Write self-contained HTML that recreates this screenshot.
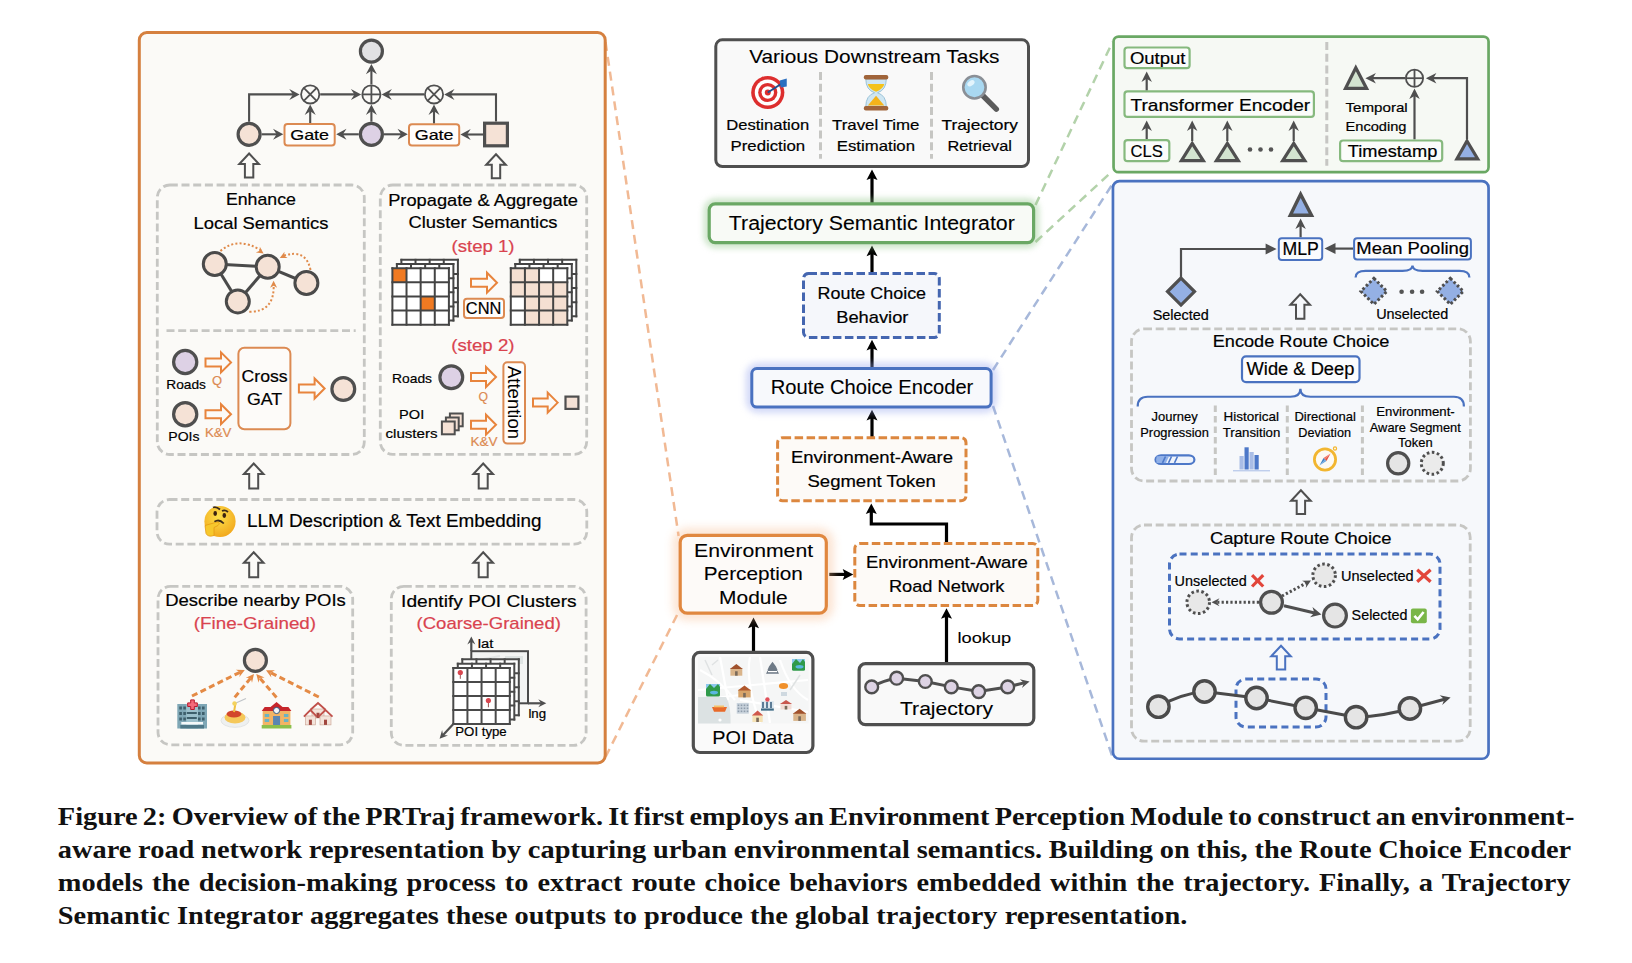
<!DOCTYPE html>
<html><head><meta charset="utf-8"><style>
html,body{margin:0;padding:0;background:#fff;}
#wrap{position:relative;width:1632px;height:963px;overflow:hidden;background:#fff;}
svg{position:absolute;left:0;top:0;}

</style></head><body><div id="wrap">
<svg width="1632" height="963" viewBox="0 0 1632 963">
<line x1="605.5" y1="42" x2="678.6" y2="536" stroke="#f1b994" stroke-width="2.5" stroke-linecap="butt" stroke-dasharray="9 6"/>
<line x1="605.5" y1="757" x2="678.6" y2="612" stroke="#f1b994" stroke-width="2.5" stroke-linecap="butt" stroke-dasharray="9 6"/>
<line x1="1035.5" y1="205" x2="1112.5" y2="42" stroke="#b3d2aa" stroke-width="2.5" stroke-linecap="butt" stroke-dasharray="9 6"/>
<line x1="1035.5" y1="242" x2="1112.5" y2="171" stroke="#b3d2aa" stroke-width="2.5" stroke-linecap="butt" stroke-dasharray="9 6"/>
<line x1="993" y1="370" x2="1112.5" y2="184" stroke="#a7b8da" stroke-width="2.5" stroke-linecap="butt" stroke-dasharray="9 6"/>
<line x1="993" y1="406" x2="1112.5" y2="757" stroke="#a7b8da" stroke-width="2.5" stroke-linecap="butt" stroke-dasharray="9 6"/>
<rect x="139.3" y="32.5" width="465.9" height="730.4" rx="7.5" fill="#fbfaf7" stroke="#d5803f" stroke-width="3" />
<circle cx="371.4" cy="51.2" r="11" fill="#e2e2e4" stroke="#4f4f4f" stroke-width="3.2" />
<circle cx="371.4" cy="94.4" r="9.1" fill="#fbfaf7" stroke="#4f4f4f" stroke-width="1.8" />
<line x1="362.3" y1="94.4" x2="380.5" y2="94.4" stroke="#4f4f4f" stroke-width="1.8" stroke-linecap="butt"/>
<line x1="371.4" y1="85.3" x2="371.4" y2="103.5" stroke="#4f4f4f" stroke-width="1.8" stroke-linecap="butt"/>
<circle cx="310.2" cy="94.4" r="9.1" fill="#fbfaf7" stroke="#4f4f4f" stroke-width="1.8" />
<line x1="303.77" y1="87.97" x2="316.63" y2="100.83" stroke="#4f4f4f" stroke-width="1.8" stroke-linecap="butt"/>
<line x1="303.77" y1="100.83" x2="316.63" y2="87.97" stroke="#4f4f4f" stroke-width="1.8" stroke-linecap="butt"/>
<circle cx="434" cy="94.4" r="9.1" fill="#fbfaf7" stroke="#4f4f4f" stroke-width="1.8" />
<line x1="427.57" y1="87.97" x2="440.43" y2="100.83" stroke="#4f4f4f" stroke-width="1.8" stroke-linecap="butt"/>
<line x1="427.57" y1="100.83" x2="440.43" y2="87.97" stroke="#4f4f4f" stroke-width="1.8" stroke-linecap="butt"/>
<circle cx="249.1" cy="134.3" r="11" fill="#f5e2d6" stroke="#4f4f4f" stroke-width="3.2" />
<circle cx="371.4" cy="134.3" r="11" fill="#ddd1e5" stroke="#4f4f4f" stroke-width="3.2" />
<rect x="484.6" y="123.2" width="22.8" height="22.6" rx="0" fill="#f5e2d6" stroke="#4f4f4f" stroke-width="3.2" />
<rect x="284.5" y="124" width="50.2" height="21.6" rx="3" fill="#fffdfb" stroke="#dc8a52" stroke-width="2" />
<rect x="409" y="124.3" width="50.2" height="21.3" rx="3" fill="#fffdfb" stroke="#dc8a52" stroke-width="2" />
<text x="290.2" y="139.5" font-family="Liberation Sans" font-size="15" font-weight="normal" fill="#000" stroke="#000" stroke-width="0.2" text-anchor="start" textLength="38.9" lengthAdjust="spacingAndGlyphs" >Gate</text>
<text x="414.7" y="139.5" font-family="Liberation Sans" font-size="15" font-weight="normal" fill="#000" stroke="#000" stroke-width="0.2" text-anchor="start" textLength="38.9" lengthAdjust="spacingAndGlyphs" >Gate</text>
<path d="M249.1,121.7 L249.1,94.4 L294.24,94.4" fill="none" stroke="#4f4f4f" stroke-width="2.1" stroke-linejoin="miter" />
<path d="M299.6,94.4 L289.3,99.9 L292.91,94.4 L289.3,88.9 Z" fill="#4f4f4f"/>
<path d="M261.7,134.3 L277.94,134.3" fill="none" stroke="#4f4f4f" stroke-width="2.1" stroke-linejoin="miter" />
<path d="M283.3,134.3 L273,139.8 L276.61,134.3 L273,128.8 Z" fill="#4f4f4f"/>
<path d="M310.2,123 L310.2,109.96" fill="none" stroke="#4f4f4f" stroke-width="2.1" stroke-linejoin="miter" />
<path d="M310.2,104.6 L315.7,114.9 L310.2,111.29 L304.7,114.9 Z" fill="#4f4f4f"/>
<path d="M320.2,94.4 L355.84,94.4" fill="none" stroke="#4f4f4f" stroke-width="2.1" stroke-linejoin="miter" />
<path d="M361.2,94.4 L350.9,99.9 L354.5,94.4 L350.9,88.9 Z" fill="#4f4f4f"/>
<path d="M358.8,134.3 L341.56,134.3" fill="none" stroke="#4f4f4f" stroke-width="2.1" stroke-linejoin="miter" />
<path d="M336.2,134.3 L346.5,128.8 L342.89,134.3 L346.5,139.8 Z" fill="#4f4f4f"/>
<path d="M371.4,121.7 L371.4,109.96" fill="none" stroke="#4f4f4f" stroke-width="2.1" stroke-linejoin="miter" />
<path d="M371.4,104.6 L376.9,114.9 L371.4,111.29 L365.9,114.9 Z" fill="#4f4f4f"/>
<path d="M371.4,84.4 L371.4,69.36" fill="none" stroke="#4f4f4f" stroke-width="2.1" stroke-linejoin="miter" />
<path d="M371.4,64 L376.9,74.3 L371.4,70.69 L365.9,74.3 Z" fill="#4f4f4f"/>
<path d="M384,134.3 L402.44,134.3" fill="none" stroke="#4f4f4f" stroke-width="2.1" stroke-linejoin="miter" />
<path d="M407.8,134.3 L397.5,139.8 L401.11,134.3 L397.5,128.8 Z" fill="#4f4f4f"/>
<path d="M483,134.5 L465.76,134.5" fill="none" stroke="#4f4f4f" stroke-width="2.1" stroke-linejoin="miter" />
<path d="M460.4,134.5 L470.7,129 L467.09,134.5 L470.7,140 Z" fill="#4f4f4f"/>
<path d="M434,123.3 L434,109.96" fill="none" stroke="#4f4f4f" stroke-width="2.1" stroke-linejoin="miter" />
<path d="M434,104.6 L439.5,114.9 L434,111.29 L428.5,114.9 Z" fill="#4f4f4f"/>
<path d="M496,121.6 L496,94.4 L449.56,94.4" fill="none" stroke="#4f4f4f" stroke-width="2.1" stroke-linejoin="miter" />
<path d="M444.2,94.4 L454.5,88.9 L450.89,94.4 L454.5,99.9 Z" fill="#4f4f4f"/>
<path d="M424,94.4 L386.96,94.4" fill="none" stroke="#4f4f4f" stroke-width="2.1" stroke-linejoin="miter" />
<path d="M381.6,94.4 L391.9,88.9 L388.3,94.4 L391.9,99.9 Z" fill="#4f4f4f"/>
<path d="M249.1,153.5 L258.9,164 L253.3,164 L253.3,177.5 L244.9,177.5 L244.9,164 L239.3,164 Z" fill="#fbfaf7" stroke="#4f4f4f" stroke-width="2" stroke-linejoin="miter" />
<path d="M496,154.3 L505.8,164.8 L500.2,164.8 L500.2,178.3 L491.8,178.3 L491.8,164.8 L486.2,164.8 Z" fill="#fbfaf7" stroke="#4f4f4f" stroke-width="2" stroke-linejoin="miter" />
<rect x="157.3" y="185" width="207" height="269.5" rx="12.5" fill="none" stroke="#c6c6c3" stroke-width="2.8" stroke-dasharray="8 3.7" />
<text x="225.9" y="204.6" font-family="Liberation Sans" font-size="17" font-weight="normal" fill="#000" stroke="#000" stroke-width="0.2" text-anchor="start" textLength="70.1" lengthAdjust="spacingAndGlyphs" >Enhance</text>
<text x="193.5" y="228.5" font-family="Liberation Sans" font-size="17" font-weight="normal" fill="#000" stroke="#000" stroke-width="0.2" text-anchor="start" textLength="135" lengthAdjust="spacingAndGlyphs" >Local Semantics</text>
<line x1="214.8" y1="264" x2="267.7" y2="266.8" stroke="#4a4a4a" stroke-width="3" stroke-linecap="butt"/>
<line x1="214.8" y1="264" x2="237.8" y2="301.4" stroke="#4a4a4a" stroke-width="3" stroke-linecap="butt"/>
<line x1="237.8" y1="301.4" x2="267.7" y2="266.8" stroke="#4a4a4a" stroke-width="3" stroke-linecap="butt"/>
<line x1="267.7" y1="266.8" x2="306.4" y2="283" stroke="#4a4a4a" stroke-width="3" stroke-linecap="butt"/>
<circle cx="214.8" cy="264" r="11.5" fill="#f5e2d6" stroke="#4a4a4a" stroke-width="3" />
<circle cx="267.7" cy="266.8" r="11.5" fill="#f5e2d6" stroke="#4a4a4a" stroke-width="3" />
<circle cx="306.4" cy="283" r="11.5" fill="#f5e2d6" stroke="#4a4a4a" stroke-width="3" />
<circle cx="237.8" cy="301.4" r="11.5" fill="#f5e2d6" stroke="#4a4a4a" stroke-width="3" />
<path d="M220.4,251 Q238,236 261,250.5" fill="none" stroke="#e08a4a" stroke-width="2" stroke-dasharray="2 2.2" stroke-linejoin="miter" />
<path d="M263.6,253.6 L255.86,252.45 L259.59,250.79 L259.87,246.72 Z" fill="#e08a4a"/>
<path d="M310.5,270 Q306,248 283,256" fill="none" stroke="#e08a4a" stroke-width="2" stroke-dasharray="2 2.2" stroke-linejoin="miter" />
<path d="M279.8,258 L284.5,251.74 L284.18,255.81 L287.63,258 Z" fill="#e08a4a"/>
<path d="M249.3,311.7 Q275,312 273.6,284" fill="none" stroke="#e08a4a" stroke-width="2" stroke-dasharray="2 2.2" stroke-linejoin="miter" />
<path d="M273.6,280.8 L277.1,287.8 L273.6,285.7 L270.1,287.8 Z" fill="#e08a4a"/>
<line x1="166.5" y1="330.6" x2="355.7" y2="330.6" stroke="#c6c6c3" stroke-width="2.8" stroke-linecap="butt" stroke-dasharray="8 3.7"/>
<circle cx="185.2" cy="362" r="11.6" fill="#ddd1e5" stroke="#4f4f4f" stroke-width="3.2" />
<circle cx="185.2" cy="414.2" r="11.6" fill="#f5e2d6" stroke="#4f4f4f" stroke-width="3.2" />
<text x="166.3" y="388.5" font-family="Liberation Sans" font-size="13.5" font-weight="normal" fill="#000" stroke="#000" stroke-width="0.2" text-anchor="start" textLength="39.6" lengthAdjust="spacingAndGlyphs" >Roads</text>
<text x="168.3" y="440.7" font-family="Liberation Sans" font-size="13.5" font-weight="normal" fill="#000" stroke="#000" stroke-width="0.2" text-anchor="start" textLength="31.2" lengthAdjust="spacingAndGlyphs" >POIs</text>
<path d="M231,362.4 L221,352.4 L221,358.4 L205.5,358.4 L205.5,366.4 L221,366.4 L221,372.4 Z" fill="#fbfaf7" stroke="#e8843c" stroke-width="2" stroke-linejoin="miter" />
<path d="M231,414.2 L221,404.2 L221,410.2 L205.5,410.2 L205.5,418.2 L221,418.2 L221,424.2 Z" fill="#fbfaf7" stroke="#e8843c" stroke-width="2" stroke-linejoin="miter" />
<text x="211.9" y="385" font-family="Liberation Sans" font-size="13" font-weight="normal" fill="#dc8a52" stroke="#dc8a52" stroke-width="0.2" text-anchor="start" textLength="10.1" lengthAdjust="spacingAndGlyphs" >Q</text>
<text x="204.9" y="437" font-family="Liberation Sans" font-size="13" font-weight="normal" fill="#dc8a52" stroke="#dc8a52" stroke-width="0.2" text-anchor="start" textLength="26.6" lengthAdjust="spacingAndGlyphs" >K&amp;V</text>
<rect x="238.4" y="347.8" width="52" height="81.5" rx="6" fill="#fdfbf9" stroke="#dc8a52" stroke-width="2" />
<text x="241.5" y="382.3" font-family="Liberation Sans" font-size="17" font-weight="normal" fill="#000" stroke="#000" stroke-width="0.2" text-anchor="start" textLength="46.2" lengthAdjust="spacingAndGlyphs" >Cross</text>
<text x="247" y="405.4" font-family="Liberation Sans" font-size="17" font-weight="normal" fill="#000" stroke="#000" stroke-width="0.2" text-anchor="start" textLength="35.2" lengthAdjust="spacingAndGlyphs" >GAT</text>
<path d="M324.6,388.5 L314.6,378.5 L314.6,384.5 L298.9,384.5 L298.9,392.5 L314.6,392.5 L314.6,398.5 Z" fill="#fbfaf7" stroke="#e8843c" stroke-width="2" stroke-linejoin="miter" />
<circle cx="343.3" cy="389" r="11.4" fill="#f5e2d6" stroke="#4f4f4f" stroke-width="3.2" />
<rect x="380.3" y="185" width="206.4" height="269.3" rx="12.5" fill="none" stroke="#c6c6c3" stroke-width="2.8" stroke-dasharray="8 3.7" />
<text x="388.2" y="205.7" font-family="Liberation Sans" font-size="17" font-weight="normal" fill="#000" stroke="#000" stroke-width="0.2" text-anchor="start" textLength="189.8" lengthAdjust="spacingAndGlyphs" >Propagate &amp; Aggregate</text>
<text x="408.5" y="228" font-family="Liberation Sans" font-size="17" font-weight="normal" fill="#000" stroke="#000" stroke-width="0.2" text-anchor="start" textLength="149" lengthAdjust="spacingAndGlyphs" >Cluster Semantics</text>
<text x="451.5" y="252" font-family="Liberation Sans" font-size="17" font-weight="normal" fill="#d9434f" stroke="#d9434f" stroke-width="0.2" text-anchor="start" textLength="63" lengthAdjust="spacingAndGlyphs" >(step 1)</text>
<rect x="401.4" y="259.83" width="56.5" height="56.5" rx="0" fill="#fff" stroke="none" stroke-width="0" />
<line x1="401.4" y1="259.83" x2="401.4" y2="316.33" stroke="#444" stroke-width="2" stroke-linecap="square"/>
<line x1="401.4" y1="259.83" x2="457.9" y2="259.83" stroke="#444" stroke-width="2" stroke-linecap="square"/>
<line x1="415.52" y1="259.83" x2="415.52" y2="316.33" stroke="#444" stroke-width="2" stroke-linecap="square"/>
<line x1="401.4" y1="273.95" x2="457.9" y2="273.95" stroke="#444" stroke-width="2" stroke-linecap="square"/>
<line x1="429.65" y1="259.83" x2="429.65" y2="316.33" stroke="#444" stroke-width="2" stroke-linecap="square"/>
<line x1="401.4" y1="288.08" x2="457.9" y2="288.08" stroke="#444" stroke-width="2" stroke-linecap="square"/>
<line x1="443.77" y1="259.83" x2="443.77" y2="316.33" stroke="#444" stroke-width="2" stroke-linecap="square"/>
<line x1="401.4" y1="302.2" x2="457.9" y2="302.2" stroke="#444" stroke-width="2" stroke-linecap="square"/>
<line x1="457.9" y1="259.83" x2="457.9" y2="316.33" stroke="#444" stroke-width="2" stroke-linecap="square"/>
<line x1="401.4" y1="316.33" x2="457.9" y2="316.33" stroke="#444" stroke-width="2" stroke-linecap="square"/>
<rect x="396.9" y="264.01" width="56.5" height="56.5" rx="0" fill="#fff" stroke="none" stroke-width="0" />
<line x1="396.9" y1="264.01" x2="396.9" y2="320.51" stroke="#444" stroke-width="2" stroke-linecap="square"/>
<line x1="396.9" y1="264.01" x2="453.4" y2="264.01" stroke="#444" stroke-width="2" stroke-linecap="square"/>
<line x1="411.02" y1="264.01" x2="411.02" y2="320.51" stroke="#444" stroke-width="2" stroke-linecap="square"/>
<line x1="396.9" y1="278.14" x2="453.4" y2="278.14" stroke="#444" stroke-width="2" stroke-linecap="square"/>
<line x1="425.15" y1="264.01" x2="425.15" y2="320.51" stroke="#444" stroke-width="2" stroke-linecap="square"/>
<line x1="396.9" y1="292.26" x2="453.4" y2="292.26" stroke="#444" stroke-width="2" stroke-linecap="square"/>
<line x1="439.27" y1="264.01" x2="439.27" y2="320.51" stroke="#444" stroke-width="2" stroke-linecap="square"/>
<line x1="396.9" y1="306.39" x2="453.4" y2="306.39" stroke="#444" stroke-width="2" stroke-linecap="square"/>
<line x1="453.4" y1="264.01" x2="453.4" y2="320.51" stroke="#444" stroke-width="2" stroke-linecap="square"/>
<line x1="396.9" y1="320.51" x2="453.4" y2="320.51" stroke="#444" stroke-width="2" stroke-linecap="square"/>
<rect x="392.4" y="268.2" width="56.5" height="56.5" rx="0" fill="#fff" stroke="none" stroke-width="0" />
<rect x="392.4" y="268.2" width="14.12" height="14.12" rx="0" fill="#f07a22" stroke="none" stroke-width="0" />
<rect x="420.65" y="296.45" width="14.12" height="14.12" rx="0" fill="#f07a22" stroke="none" stroke-width="0" />
<line x1="392.4" y1="268.2" x2="392.4" y2="324.7" stroke="#444" stroke-width="2" stroke-linecap="square"/>
<line x1="392.4" y1="268.2" x2="448.9" y2="268.2" stroke="#444" stroke-width="2" stroke-linecap="square"/>
<line x1="406.52" y1="268.2" x2="406.52" y2="324.7" stroke="#444" stroke-width="2" stroke-linecap="square"/>
<line x1="392.4" y1="282.32" x2="448.9" y2="282.32" stroke="#444" stroke-width="2" stroke-linecap="square"/>
<line x1="420.65" y1="268.2" x2="420.65" y2="324.7" stroke="#444" stroke-width="2" stroke-linecap="square"/>
<line x1="392.4" y1="296.45" x2="448.9" y2="296.45" stroke="#444" stroke-width="2" stroke-linecap="square"/>
<line x1="434.77" y1="268.2" x2="434.77" y2="324.7" stroke="#444" stroke-width="2" stroke-linecap="square"/>
<line x1="392.4" y1="310.57" x2="448.9" y2="310.57" stroke="#444" stroke-width="2" stroke-linecap="square"/>
<line x1="448.9" y1="268.2" x2="448.9" y2="324.7" stroke="#444" stroke-width="2" stroke-linecap="square"/>
<line x1="392.4" y1="324.7" x2="448.9" y2="324.7" stroke="#444" stroke-width="2" stroke-linecap="square"/>
<path d="M497,282.7 L487,272.7 L487,278.7 L471,278.7 L471,286.7 L487,286.7 L487,292.7 Z" fill="#fbfaf7" stroke="#e8843c" stroke-width="2" stroke-linejoin="miter" />
<rect x="464" y="298.7" width="40" height="19.3" rx="3" fill="#fffdfb" stroke="#dc8a52" stroke-width="2" />
<text x="465.8" y="313.6" font-family="Liberation Sans" font-size="16.4" font-weight="normal" fill="#000" stroke="#000" stroke-width="0.2" text-anchor="start" textLength="35.5" lengthAdjust="spacingAndGlyphs" >CNN</text>
<rect x="519.8" y="259.83" width="56.5" height="56.5" rx="0" fill="#fff" stroke="none" stroke-width="0" />
<line x1="519.8" y1="259.83" x2="519.8" y2="316.33" stroke="#444" stroke-width="2" stroke-linecap="square"/>
<line x1="519.8" y1="259.83" x2="576.3" y2="259.83" stroke="#444" stroke-width="2" stroke-linecap="square"/>
<line x1="533.92" y1="259.83" x2="533.92" y2="316.33" stroke="#444" stroke-width="2" stroke-linecap="square"/>
<line x1="519.8" y1="273.95" x2="576.3" y2="273.95" stroke="#444" stroke-width="2" stroke-linecap="square"/>
<line x1="548.05" y1="259.83" x2="548.05" y2="316.33" stroke="#444" stroke-width="2" stroke-linecap="square"/>
<line x1="519.8" y1="288.08" x2="576.3" y2="288.08" stroke="#444" stroke-width="2" stroke-linecap="square"/>
<line x1="562.17" y1="259.83" x2="562.17" y2="316.33" stroke="#444" stroke-width="2" stroke-linecap="square"/>
<line x1="519.8" y1="302.2" x2="576.3" y2="302.2" stroke="#444" stroke-width="2" stroke-linecap="square"/>
<line x1="576.3" y1="259.83" x2="576.3" y2="316.33" stroke="#444" stroke-width="2" stroke-linecap="square"/>
<line x1="519.8" y1="316.33" x2="576.3" y2="316.33" stroke="#444" stroke-width="2" stroke-linecap="square"/>
<rect x="515.3" y="264.01" width="56.5" height="56.5" rx="0" fill="#fff" stroke="none" stroke-width="0" />
<line x1="515.3" y1="264.01" x2="515.3" y2="320.51" stroke="#444" stroke-width="2" stroke-linecap="square"/>
<line x1="515.3" y1="264.01" x2="571.8" y2="264.01" stroke="#444" stroke-width="2" stroke-linecap="square"/>
<line x1="529.42" y1="264.01" x2="529.42" y2="320.51" stroke="#444" stroke-width="2" stroke-linecap="square"/>
<line x1="515.3" y1="278.14" x2="571.8" y2="278.14" stroke="#444" stroke-width="2" stroke-linecap="square"/>
<line x1="543.55" y1="264.01" x2="543.55" y2="320.51" stroke="#444" stroke-width="2" stroke-linecap="square"/>
<line x1="515.3" y1="292.26" x2="571.8" y2="292.26" stroke="#444" stroke-width="2" stroke-linecap="square"/>
<line x1="557.67" y1="264.01" x2="557.67" y2="320.51" stroke="#444" stroke-width="2" stroke-linecap="square"/>
<line x1="515.3" y1="306.39" x2="571.8" y2="306.39" stroke="#444" stroke-width="2" stroke-linecap="square"/>
<line x1="571.8" y1="264.01" x2="571.8" y2="320.51" stroke="#444" stroke-width="2" stroke-linecap="square"/>
<line x1="515.3" y1="320.51" x2="571.8" y2="320.51" stroke="#444" stroke-width="2" stroke-linecap="square"/>
<rect x="510.8" y="268.2" width="56.5" height="56.5" rx="0" fill="#fff" stroke="none" stroke-width="0" />
<rect x="510.8" y="268.2" width="14.12" height="14.12" rx="0" fill="#f5e0d2" stroke="none" stroke-width="0" />
<rect x="524.92" y="268.2" width="14.12" height="14.12" rx="0" fill="#f5e0d2" stroke="none" stroke-width="0" />
<rect x="510.8" y="282.32" width="14.12" height="14.12" rx="0" fill="#f5e0d2" stroke="none" stroke-width="0" />
<rect x="524.92" y="282.32" width="14.12" height="14.12" rx="0" fill="#f5e0d2" stroke="none" stroke-width="0" />
<rect x="539.05" y="282.32" width="14.12" height="14.12" rx="0" fill="#f5e0d2" stroke="none" stroke-width="0" />
<rect x="553.17" y="282.32" width="14.12" height="14.12" rx="0" fill="#f5e0d2" stroke="none" stroke-width="0" />
<rect x="524.92" y="296.45" width="14.12" height="14.12" rx="0" fill="#f5e0d2" stroke="none" stroke-width="0" />
<rect x="539.05" y="296.45" width="14.12" height="14.12" rx="0" fill="#f5e0d2" stroke="none" stroke-width="0" />
<rect x="553.17" y="296.45" width="14.12" height="14.12" rx="0" fill="#f5e0d2" stroke="none" stroke-width="0" />
<rect x="524.92" y="310.57" width="14.12" height="14.12" rx="0" fill="#f5e0d2" stroke="none" stroke-width="0" />
<rect x="539.05" y="310.57" width="14.12" height="14.12" rx="0" fill="#f5e0d2" stroke="none" stroke-width="0" />
<rect x="553.17" y="310.57" width="14.12" height="14.12" rx="0" fill="#f5e0d2" stroke="none" stroke-width="0" />
<line x1="510.8" y1="268.2" x2="510.8" y2="324.7" stroke="#444" stroke-width="2" stroke-linecap="square"/>
<line x1="510.8" y1="268.2" x2="567.3" y2="268.2" stroke="#444" stroke-width="2" stroke-linecap="square"/>
<line x1="524.92" y1="268.2" x2="524.92" y2="324.7" stroke="#444" stroke-width="2" stroke-linecap="square"/>
<line x1="510.8" y1="282.32" x2="567.3" y2="282.32" stroke="#444" stroke-width="2" stroke-linecap="square"/>
<line x1="539.05" y1="268.2" x2="539.05" y2="324.7" stroke="#444" stroke-width="2" stroke-linecap="square"/>
<line x1="510.8" y1="296.45" x2="567.3" y2="296.45" stroke="#444" stroke-width="2" stroke-linecap="square"/>
<line x1="553.17" y1="268.2" x2="553.17" y2="324.7" stroke="#444" stroke-width="2" stroke-linecap="square"/>
<line x1="510.8" y1="310.57" x2="567.3" y2="310.57" stroke="#444" stroke-width="2" stroke-linecap="square"/>
<line x1="567.3" y1="268.2" x2="567.3" y2="324.7" stroke="#444" stroke-width="2" stroke-linecap="square"/>
<line x1="510.8" y1="324.7" x2="567.3" y2="324.7" stroke="#444" stroke-width="2" stroke-linecap="square"/>
<text x="451.3" y="351" font-family="Liberation Sans" font-size="17" font-weight="normal" fill="#d9434f" stroke="#d9434f" stroke-width="0.2" text-anchor="start" textLength="63.2" lengthAdjust="spacingAndGlyphs" >(step 2)</text>
<text x="392.1" y="382.6" font-family="Liberation Sans" font-size="13.5" font-weight="normal" fill="#000" stroke="#000" stroke-width="0.2" text-anchor="start" textLength="39.9" lengthAdjust="spacingAndGlyphs" >Roads</text>
<circle cx="451.3" cy="377.3" r="11.4" fill="#ddd1e5" stroke="#4f4f4f" stroke-width="3.2" />
<path d="M496,377 L486,367 L486,373 L471,373 L471,381 L486,381 L486,387 Z" fill="#fbfaf7" stroke="#e8843c" stroke-width="2" stroke-linejoin="miter" />
<text x="478.5" y="401" font-family="Liberation Sans" font-size="13" font-weight="normal" fill="#dc8a52" stroke="#dc8a52" stroke-width="0.2" text-anchor="start" textLength="9.5" lengthAdjust="spacingAndGlyphs" >Q</text>
<text x="399.1" y="419" font-family="Liberation Sans" font-size="13.5" font-weight="normal" fill="#000" stroke="#000" stroke-width="0.2" text-anchor="start" textLength="25.1" lengthAdjust="spacingAndGlyphs" >POI</text>
<text x="385.5" y="438.4" font-family="Liberation Sans" font-size="13.5" font-weight="normal" fill="#000" stroke="#000" stroke-width="0.2" text-anchor="start" textLength="52" lengthAdjust="spacingAndGlyphs" >clusters</text>
<rect x="449.9" y="413.5" width="12.8" height="12.8" rx="0" fill="#f5e2d6" stroke="#4f4f4f" stroke-width="2" />
<rect x="445.9" y="417.5" width="12.8" height="12.8" rx="0" fill="#f5e2d6" stroke="#4f4f4f" stroke-width="2" />
<rect x="441.9" y="421.5" width="12.8" height="12.8" rx="0" fill="#f5e2d6" stroke="#4f4f4f" stroke-width="2" />
<path d="M496,424.7 L486,414.7 L486,420.7 L471,420.7 L471,428.7 L486,428.7 L486,434.7 Z" fill="#fbfaf7" stroke="#e8843c" stroke-width="2" stroke-linejoin="miter" />
<text x="470.5" y="446" font-family="Liberation Sans" font-size="13" font-weight="normal" fill="#dc8a52" stroke="#dc8a52" stroke-width="0.2" text-anchor="start" textLength="27" lengthAdjust="spacingAndGlyphs" >K&amp;V</text>
<rect x="503.4" y="362.3" width="21.6" height="81.3" rx="4" fill="#fffdfb" stroke="#dc8a52" stroke-width="2" />
<text x="0" y="0" font-family="Liberation Sans" font-size="19" textLength="73" lengthAdjust="spacingAndGlyphs" transform="translate(507.5,366) rotate(90)">Attention</text>
<path d="M557.7,402.6 L547.7,392.6 L547.7,398.6 L533,398.6 L533,406.6 L547.7,406.6 L547.7,412.6 Z" fill="#fbfaf7" stroke="#e8843c" stroke-width="2" stroke-linejoin="miter" />
<rect x="565.5" y="396.6" width="12.9" height="12.3" rx="0" fill="#f5e2d6" stroke="#4f4f4f" stroke-width="2.2" />
<path d="M253.7,463.5 L263.5,474 L258.2,474 L258.2,488.5 L249.2,488.5 L249.2,474 L243.9,474 Z" fill="#fbfaf7" stroke="#4f4f4f" stroke-width="2" stroke-linejoin="miter" />
<path d="M483.2,463.5 L493,474 L487.7,474 L487.7,488.5 L478.7,488.5 L478.7,474 L473.4,474 Z" fill="#fbfaf7" stroke="#4f4f4f" stroke-width="2" stroke-linejoin="miter" />
<rect x="157" y="499.5" width="429.8" height="44.7" rx="12.5" fill="none" stroke="#c6c6c3" stroke-width="2.8" stroke-dasharray="8 3.7" />
<text x="247" y="527.4" font-family="Liberation Sans" font-size="18" font-weight="normal" fill="#000" stroke="#000" stroke-width="0.2" text-anchor="start" textLength="294.5" lengthAdjust="spacingAndGlyphs" >LLM Description &amp; Text Embedding</text>
<path d="M253.7,552.3 L263.5,562.8 L258.2,562.8 L258.2,577.3 L249.2,577.3 L249.2,562.8 L243.9,562.8 Z" fill="#fbfaf7" stroke="#4f4f4f" stroke-width="2" stroke-linejoin="miter" />
<path d="M483.2,552.3 L493,562.8 L487.7,562.8 L487.7,577.3 L478.7,577.3 L478.7,562.8 L473.4,562.8 Z" fill="#fbfaf7" stroke="#4f4f4f" stroke-width="2" stroke-linejoin="miter" />
<rect x="158" y="586.3" width="194.7" height="158.5" rx="12.5" fill="none" stroke="#c6c6c3" stroke-width="2.8" stroke-dasharray="8 3.7" />
<text x="165.2" y="605.7" font-family="Liberation Sans" font-size="17" font-weight="normal" fill="#000" stroke="#000" stroke-width="0.2" text-anchor="start" textLength="180.6" lengthAdjust="spacingAndGlyphs" >Describe nearby POIs</text>
<text x="193.8" y="629.3" font-family="Liberation Sans" font-size="17" font-weight="normal" fill="#d9434f" stroke="#d9434f" stroke-width="0.2" text-anchor="start" textLength="122.3" lengthAdjust="spacingAndGlyphs" >(Fine-Grained)</text>
<circle cx="255.4" cy="660.4" r="11" fill="#f5e2d6" stroke="#4f4f4f" stroke-width="3.2" />
<path d="M192,696 L241.07,671.74" fill="none" stroke="#e48a45" stroke-width="3" stroke-dasharray="6 3.5" stroke-linejoin="miter" />
<path d="M244.8,669.9 L239.4,677.03 L240.14,672.2 L235.86,669.86 Z" fill="#e48a45"/>
<path d="M234.7,697.4 L251.35,677.21" fill="none" stroke="#e48a45" stroke-width="3" stroke-dasharray="6 3.5" stroke-linejoin="miter" />
<path d="M254,674 L252,682.72 L250.69,678.01 L245.82,677.63 Z" fill="#e48a45"/>
<path d="M276.5,697.4 L259.02,677.15" fill="none" stroke="#e48a45" stroke-width="3" stroke-dasharray="6 3.5" stroke-linejoin="miter" />
<path d="M256.3,674 L264.56,677.44 L259.7,677.94 L258.5,682.67 Z" fill="#e48a45"/>
<path d="M318.8,697 L269.71,672.18" fill="none" stroke="#e48a45" stroke-width="3" stroke-dasharray="6 3.5" stroke-linejoin="miter" />
<path d="M266,670.3 L274.94,670.34 L270.64,672.65 L271.33,677.48 Z" fill="#e48a45"/>
<rect x="391.3" y="586.3" width="194.8" height="159.1" rx="12.5" fill="none" stroke="#c6c6c3" stroke-width="2.8" stroke-dasharray="8 3.7" />
<text x="401.1" y="606.6" font-family="Liberation Sans" font-size="17" font-weight="normal" fill="#000" stroke="#000" stroke-width="0.2" text-anchor="start" textLength="175.6" lengthAdjust="spacingAndGlyphs" >Identify POI Clusters</text>
<text x="416.5" y="629.3" font-family="Liberation Sans" font-size="17" font-weight="normal" fill="#d9434f" stroke="#d9434f" stroke-width="0.2" text-anchor="start" textLength="144.4" lengthAdjust="spacingAndGlyphs" >(Coarse-Grained)</text>
<rect x="471.3" y="651.2" width="56.7" height="52.1" rx="0" fill="#f3f4f3" stroke="#4a4a4a" stroke-width="2" />
<path d="M478,660 L500,656 M505,664 L522,660 M480,680 L515,674" fill="none" stroke="#e3e6e6" stroke-width="2" stroke-linejoin="miter" />
<rect x="505" y="656" width="18" height="8" rx="0" fill="#dfe4e3" stroke="none" stroke-width="0" />
<path d="M471.3,651 L471.3,640.76" fill="none" stroke="#4f4f4f" stroke-width="2.2" stroke-linejoin="miter" />
<path d="M471.3,636.6 L475.3,644.6 L471.3,641.8 L467.3,644.6 Z" fill="#4f4f4f"/>
<path d="M528,703.3 L542.14,703.3" fill="none" stroke="#4f4f4f" stroke-width="2.2" stroke-linejoin="miter" />
<path d="M546.3,703.3 L538.3,707.3 L541.1,703.3 L538.3,699.3 Z" fill="#4f4f4f"/>
<rect x="462.3" y="659.36" width="56.5" height="55.9" rx="0" fill="#fff" stroke="none" stroke-width="0" />
<line x1="462.3" y1="659.36" x2="462.3" y2="715.26" stroke="#4a4a4a" stroke-width="2" stroke-linecap="square"/>
<line x1="462.3" y1="659.36" x2="518.8" y2="659.36" stroke="#4a4a4a" stroke-width="2" stroke-linecap="square"/>
<line x1="476.43" y1="659.36" x2="476.43" y2="715.26" stroke="#4a4a4a" stroke-width="2" stroke-linecap="square"/>
<line x1="462.3" y1="673.34" x2="518.8" y2="673.34" stroke="#4a4a4a" stroke-width="2" stroke-linecap="square"/>
<line x1="490.55" y1="659.36" x2="490.55" y2="715.26" stroke="#4a4a4a" stroke-width="2" stroke-linecap="square"/>
<line x1="462.3" y1="687.31" x2="518.8" y2="687.31" stroke="#4a4a4a" stroke-width="2" stroke-linecap="square"/>
<line x1="504.67" y1="659.36" x2="504.67" y2="715.26" stroke="#4a4a4a" stroke-width="2" stroke-linecap="square"/>
<line x1="462.3" y1="701.28" x2="518.8" y2="701.28" stroke="#4a4a4a" stroke-width="2" stroke-linecap="square"/>
<line x1="518.8" y1="659.36" x2="518.8" y2="715.26" stroke="#4a4a4a" stroke-width="2" stroke-linecap="square"/>
<line x1="462.3" y1="715.26" x2="518.8" y2="715.26" stroke="#4a4a4a" stroke-width="2" stroke-linecap="square"/>
<rect x="457.8" y="663.68" width="56.5" height="55.9" rx="0" fill="#fff" stroke="none" stroke-width="0" />
<line x1="457.8" y1="663.68" x2="457.8" y2="719.58" stroke="#4a4a4a" stroke-width="2" stroke-linecap="square"/>
<line x1="457.8" y1="663.68" x2="514.3" y2="663.68" stroke="#4a4a4a" stroke-width="2" stroke-linecap="square"/>
<line x1="471.93" y1="663.68" x2="471.93" y2="719.58" stroke="#4a4a4a" stroke-width="2" stroke-linecap="square"/>
<line x1="457.8" y1="677.65" x2="514.3" y2="677.65" stroke="#4a4a4a" stroke-width="2" stroke-linecap="square"/>
<line x1="486.05" y1="663.68" x2="486.05" y2="719.58" stroke="#4a4a4a" stroke-width="2" stroke-linecap="square"/>
<line x1="457.8" y1="691.63" x2="514.3" y2="691.63" stroke="#4a4a4a" stroke-width="2" stroke-linecap="square"/>
<line x1="500.17" y1="663.68" x2="500.17" y2="719.58" stroke="#4a4a4a" stroke-width="2" stroke-linecap="square"/>
<line x1="457.8" y1="705.6" x2="514.3" y2="705.6" stroke="#4a4a4a" stroke-width="2" stroke-linecap="square"/>
<line x1="514.3" y1="663.68" x2="514.3" y2="719.58" stroke="#4a4a4a" stroke-width="2" stroke-linecap="square"/>
<line x1="457.8" y1="719.58" x2="514.3" y2="719.58" stroke="#4a4a4a" stroke-width="2" stroke-linecap="square"/>
<rect x="453.3" y="668" width="56.5" height="55.9" rx="0" fill="#fff" stroke="none" stroke-width="0" />
<line x1="453.3" y1="668" x2="453.3" y2="723.9" stroke="#4a4a4a" stroke-width="2" stroke-linecap="square"/>
<line x1="453.3" y1="668" x2="509.8" y2="668" stroke="#4a4a4a" stroke-width="2" stroke-linecap="square"/>
<line x1="467.43" y1="668" x2="467.43" y2="723.9" stroke="#4a4a4a" stroke-width="2" stroke-linecap="square"/>
<line x1="453.3" y1="681.98" x2="509.8" y2="681.98" stroke="#4a4a4a" stroke-width="2" stroke-linecap="square"/>
<line x1="481.55" y1="668" x2="481.55" y2="723.9" stroke="#4a4a4a" stroke-width="2" stroke-linecap="square"/>
<line x1="453.3" y1="695.95" x2="509.8" y2="695.95" stroke="#4a4a4a" stroke-width="2" stroke-linecap="square"/>
<line x1="495.68" y1="668" x2="495.68" y2="723.9" stroke="#4a4a4a" stroke-width="2" stroke-linecap="square"/>
<line x1="453.3" y1="709.92" x2="509.8" y2="709.92" stroke="#4a4a4a" stroke-width="2" stroke-linecap="square"/>
<line x1="509.8" y1="668" x2="509.8" y2="723.9" stroke="#4a4a4a" stroke-width="2" stroke-linecap="square"/>
<line x1="453.3" y1="723.9" x2="509.8" y2="723.9" stroke="#4a4a4a" stroke-width="2" stroke-linecap="square"/>
<path d="M453.3,723.9 L442.43,735.65" fill="none" stroke="#4f4f4f" stroke-width="2.2" stroke-linejoin="miter" />
<path d="M439.6,738.7 L442.1,730.11 L443.13,734.88 L447.97,735.55 Z" fill="#4f4f4f"/>
<line x1="460.3" y1="672.5" x2="460.3" y2="678.8" stroke="#9a5050" stroke-width="1" stroke-linecap="butt"/>
<circle cx="460.3" cy="672.5" r="2.6" fill="#d9464f" stroke="none" stroke-width="0" />
<line x1="488.4" y1="700.5" x2="488.4" y2="707.3" stroke="#9a5050" stroke-width="1" stroke-linecap="butt"/>
<circle cx="488.4" cy="700.5" r="2.6" fill="#d9464f" stroke="none" stroke-width="0" />
<text x="477.7" y="647.7" font-family="Liberation Sans" font-size="12.5" font-weight="normal" fill="#000" stroke="#000" stroke-width="0.2" text-anchor="start" textLength="15.6" lengthAdjust="spacingAndGlyphs" >lat</text>
<text x="528.4" y="718" font-family="Liberation Sans" font-size="12.5" font-weight="normal" fill="#000" stroke="#000" stroke-width="0.2" text-anchor="start" textLength="17.7" lengthAdjust="spacingAndGlyphs" >lng</text>
<text x="455.3" y="735.9" font-family="Liberation Sans" font-size="12.5" font-weight="normal" fill="#000" stroke="#000" stroke-width="0.2" text-anchor="start" textLength="51.4" lengthAdjust="spacingAndGlyphs" >POI type</text>
<defs><radialGradient id="gy" cx="45%" cy="35%" r="65%"><stop offset="0" stop-color="#fde04a"/><stop offset="1" stop-color="#f2a91e"/></radialGradient></defs>
<circle cx="220" cy="521.5" r="15.6" fill="url(#gy)" stroke="none" stroke-width="0" />
<path d="M213,507.5 Q216,506.0 220,509.5" fill="none" stroke="#3b2a1a" stroke-width="1.8" stroke-linejoin="miter" />
<path d="M222,511.0 Q225,509.5 228,512.0" fill="none" stroke="#3b2a1a" stroke-width="1.8" stroke-linejoin="miter" />
<ellipse cx="215.2" cy="513.5" rx="1.8" ry="2.4" fill="#3b2210"/>
<ellipse cx="224.3" cy="515.5" rx="1.8" ry="2.4" fill="#3b2210"/>
<path d="M214.5,521.8 Q219,518.5 223.8,523.5" fill="none" stroke="#3b2a1a" stroke-width="1.8" stroke-linejoin="miter" />
<path d="M205,525.5 L217,522.0 Q221,522.5 218,525.5 L214,527.5 L214,535.5 Q208,537.5 206,533.5 Z" fill="#f7c82c" stroke="#e59a14" stroke-width="0.8" stroke-linejoin="miter" />
<rect x="177.3" y="704" width="29.7" height="24.5" rx="0" fill="#7fa7b6" stroke="none" stroke-width="0" />
<rect x="186.3" y="704" width="11.7" height="24.5" rx="0" fill="#9cc0cc" stroke="none" stroke-width="0" />
<rect x="179.3" y="706.5" width="2.6" height="3" rx="0" fill="#3e5f6c" stroke="none" stroke-width="0" />
<rect x="183.3" y="706.5" width="2.6" height="3" rx="0" fill="#3e5f6c" stroke="none" stroke-width="0" />
<rect x="198" y="706.5" width="2.6" height="3" rx="0" fill="#3e5f6c" stroke="none" stroke-width="0" />
<rect x="202" y="706.5" width="2.6" height="3" rx="0" fill="#3e5f6c" stroke="none" stroke-width="0" />
<rect x="179.3" y="712" width="2.6" height="3" rx="0" fill="#3e5f6c" stroke="none" stroke-width="0" />
<rect x="183.3" y="712" width="2.6" height="3" rx="0" fill="#3e5f6c" stroke="none" stroke-width="0" />
<rect x="198" y="712" width="2.6" height="3" rx="0" fill="#3e5f6c" stroke="none" stroke-width="0" />
<rect x="202" y="712" width="2.6" height="3" rx="0" fill="#3e5f6c" stroke="none" stroke-width="0" />
<rect x="179.3" y="717.5" width="2.6" height="3" rx="0" fill="#3e5f6c" stroke="none" stroke-width="0" />
<rect x="183.3" y="717.5" width="2.6" height="3" rx="0" fill="#3e5f6c" stroke="none" stroke-width="0" />
<rect x="198" y="717.5" width="2.6" height="3" rx="0" fill="#3e5f6c" stroke="none" stroke-width="0" />
<rect x="202" y="717.5" width="2.6" height="3" rx="0" fill="#3e5f6c" stroke="none" stroke-width="0" />
<rect x="186.8" y="712" width="10" height="2" rx="0" fill="#3e5f6c" stroke="none" stroke-width="0" />
<rect x="186.8" y="717" width="10" height="2" rx="0" fill="#3e5f6c" stroke="none" stroke-width="0" />
<rect x="181.3" y="722" width="21.7" height="2.5" rx="0" fill="#f4f8f9" stroke="none" stroke-width="0" />
<rect x="180.3" y="725" width="23.7" height="3.5" rx="0" fill="#4e7888" stroke="none" stroke-width="0" />
<path d="M190.7,699.9 h3.6 v3 h3 v3.6 h-3 v3 h-3.6 v-3 h-3 v-3.6 h3 Z" fill="#f46a7a" stroke="#b8182c" stroke-width="1" stroke-linejoin="miter" />
<ellipse cx="235" cy="720.5" rx="14" ry="6.8" fill="#eef0f0" stroke="#e2e4e4" stroke-width="1"/>
<ellipse cx="235" cy="717.5" rx="10.5" ry="6" fill="#f5c85a"/>
<ellipse cx="234" cy="714" rx="7.5" ry="3.5" fill="#d2462c"/>
<line x1="234" y1="712" x2="235.5" y2="703" stroke="#f0c040" stroke-width="2" stroke-linecap="butt"/>
<line x1="236" y1="703" x2="246" y2="698.5" stroke="#c0c4c8" stroke-width="1.2" stroke-linecap="butt"/>
<circle cx="234.5" cy="703.5" r="2.2" fill="#f3d35e" stroke="none" stroke-width="0" />
<rect x="262.7" y="710" width="27.7" height="16" rx="0" fill="#f2b464" stroke="none" stroke-width="0" />
<path d="M261.7,711 L264.7,707 L270.54999999999995,707 L276.54999999999995,702 L282.54999999999995,707 L288.4,707 L291.4,711 Z" fill="#c6262c" stroke="none" stroke-width="2.5" stroke-linejoin="miter" />
<circle cx="276.55" cy="710.5" r="3.1" fill="#f4f6f8" stroke="#2d5a86" stroke-width="1" />
<rect x="264.7" y="714" width="4.5" height="3" rx="0" fill="#6ab3c4" stroke="none" stroke-width="0" />
<rect x="264.7" y="719" width="4.5" height="3" rx="0" fill="#6ab3c4" stroke="none" stroke-width="0" />
<rect x="283.9" y="714" width="4.5" height="3" rx="0" fill="#6ab3c4" stroke="none" stroke-width="0" />
<rect x="283.9" y="719" width="4.5" height="3" rx="0" fill="#6ab3c4" stroke="none" stroke-width="0" />
<rect x="273.05" y="716" width="7" height="10" rx="0" fill="#5a86b2" stroke="none" stroke-width="0" />
<rect x="261.7" y="725" width="29.7" height="3.5" rx="0" fill="#8cbf4a" stroke="none" stroke-width="0" />
<rect x="312" y="709" width="12" height="9" rx="0" fill="#f3e3da" stroke="#c9a090" stroke-width="0.6" />
<path d="M310.5,709.75 L318.0,703 L325.5,709.75" fill="none" stroke="#c0504a" stroke-width="1.8" stroke-linejoin="miter" />
<rect x="316.5" y="712.75" width="3" height="5.25" rx="0" fill="#a0463e" stroke="none" stroke-width="0" />
<rect x="305.4" y="715.96" width="10" height="8.94" rx="0" fill="#f3e3da" stroke="#c9a090" stroke-width="0.6" />
<path d="M303.9,716.705 L310.4,710 L316.9,716.705" fill="none" stroke="#c0504a" stroke-width="1.8" stroke-linejoin="miter" />
<rect x="308.9" y="719.68" width="3" height="5.21" rx="0" fill="#a0463e" stroke="none" stroke-width="0" />
<rect x="320" y="715.96" width="11" height="8.94" rx="0" fill="#f3e3da" stroke="#c9a090" stroke-width="0.6" />
<path d="M318.5,716.705 L325.5,710 L332.5,716.705" fill="none" stroke="#c0504a" stroke-width="1.8" stroke-linejoin="miter" />
<rect x="324" y="719.68" width="3" height="5.21" rx="0" fill="#a0463e" stroke="none" stroke-width="0" />
<rect x="715.8" y="39.8" width="312.7" height="126.7" rx="6.5" fill="#f9f9f9" stroke="#4f4f4f" stroke-width="3" />
<text x="749.2" y="63.4" font-family="Liberation Sans" font-size="19" font-weight="normal" fill="#000" stroke="#000" stroke-width="0.1" text-anchor="start" textLength="250.3" lengthAdjust="spacingAndGlyphs" >Various Downstream Tasks</text>
<line x1="820.5" y1="72" x2="820.5" y2="158.8" stroke="#c6c6c3" stroke-width="3" stroke-linecap="butt" stroke-dasharray="8 3.7"/>
<line x1="931.5" y1="72" x2="931.5" y2="158.8" stroke="#c6c6c3" stroke-width="3" stroke-linecap="butt" stroke-dasharray="8 3.7"/>
<circle cx="767.77" cy="92.5" r="16.6" fill="#dd2e2e" stroke="none" stroke-width="0" />
<circle cx="767.77" cy="92.5" r="13" fill="#ffffff" stroke="none" stroke-width="0" />
<circle cx="767.77" cy="92.5" r="9.6" fill="#dd2e2e" stroke="none" stroke-width="0" />
<circle cx="767.77" cy="92.5" r="6.2" fill="#ffffff" stroke="none" stroke-width="0" />
<circle cx="767.77" cy="92.5" r="3" fill="#dd2e2e" stroke="none" stroke-width="0" />
<line x1="767.77" y1="92.5" x2="781.77" y2="83.5" stroke="#1f4f8f" stroke-width="2" stroke-linecap="butt"/>
<path d="M779.7710843373494,80.5 L786.7710843373494,78.5 L786.7710843373494,86.5 L780.7710843373494,87.5 Z" fill="#2b6fc0" stroke="none" stroke-width="2.5" stroke-linejoin="miter" />
<path d="M865.8,78.9 L886.3,78.9 Q886.3,89.9 877.55,92.75 Q886.3,95.6 886.3,106.6 L865.8,106.6 Q865.8,95.6 874.55,92.75 Q865.8,89.9 865.8,78.9 Z" fill="#cfe6f2" stroke="#9bc3d8" stroke-width="1" stroke-linejoin="miter" />
<path d="M867.8,83.9 L884.3,83.9 Q883.3,88.9 876.05,91.75 Q868.8,88.9 867.8,83.9 Z" fill="#f4c21a" stroke="none" stroke-width="2.5" stroke-linejoin="miter" />
<path d="M876.05,95.75 L884.3,105.6 L867.8,105.6 Z" fill="#f4b31a" stroke="none" stroke-width="2.5" stroke-linejoin="miter" />
<rect x="863.8" y="74.9" width="24.5" height="4.5" rx="2" fill="#a0643a" stroke="none" stroke-width="0" />
<rect x="863.8" y="106.1" width="24.5" height="4.5" rx="2" fill="#a0643a" stroke="none" stroke-width="0" />
<line x1="982.46" y1="95.23" x2="996.3" y2="109.07" stroke="#5b5b5b" stroke-width="5.5" stroke-linecap="round"/>
<circle cx="974.46" cy="87.23" r="11.2" fill="#a9d8f1" stroke="#8a8f96" stroke-width="2.6" />
<ellipse cx="970.9578313253012" cy="83.2289156626506" rx="4" ry="2.5" fill="#e3f4fc" transform="rotate(-35 970.9578313253012 83.2289156626506)"/>
<text x="726.3" y="130" font-family="Liberation Sans" font-size="15" font-weight="normal" fill="#000" stroke="#000" stroke-width="0.2" text-anchor="start" textLength="82.9" lengthAdjust="spacingAndGlyphs" >Destination</text>
<text x="730.5" y="151.2" font-family="Liberation Sans" font-size="15" font-weight="normal" fill="#000" stroke="#000" stroke-width="0.2" text-anchor="start" textLength="74.7" lengthAdjust="spacingAndGlyphs" >Prediction</text>
<text x="832" y="130" font-family="Liberation Sans" font-size="15" font-weight="normal" fill="#000" stroke="#000" stroke-width="0.2" text-anchor="start" textLength="87.5" lengthAdjust="spacingAndGlyphs" >Travel  Time</text>
<text x="836.8" y="151.2" font-family="Liberation Sans" font-size="15" font-weight="normal" fill="#000" stroke="#000" stroke-width="0.2" text-anchor="start" textLength="78.2" lengthAdjust="spacingAndGlyphs" >Estimation</text>
<text x="941.5" y="130" font-family="Liberation Sans" font-size="15" font-weight="normal" fill="#000" stroke="#000" stroke-width="0.2" text-anchor="start" textLength="76.4" lengthAdjust="spacingAndGlyphs" >Trajectory</text>
<text x="947.5" y="151.2" font-family="Liberation Sans" font-size="15" font-weight="normal" fill="#000" stroke="#000" stroke-width="0.2" text-anchor="start" textLength="64.4" lengthAdjust="spacingAndGlyphs" >Retrieval</text>
<path d="M872,203 L872,176.18" fill="none" stroke="#000" stroke-width="3.2" stroke-linejoin="miter" />
<path d="M872,169.4 L877.5,180 L872,177.88 L866.5,180 Z" fill="#000"/>
<path d="M872,273 L872,252.38" fill="none" stroke="#000" stroke-width="3.2" stroke-linejoin="miter" />
<path d="M872,245.6 L877.5,256.2 L872,254.08 L866.5,256.2 Z" fill="#000"/>
<path d="M872,367 L872,346.58" fill="none" stroke="#000" stroke-width="3.2" stroke-linejoin="miter" />
<path d="M872,339.8 L877.5,350.4 L872,348.28 L866.5,350.4 Z" fill="#000"/>
<path d="M872,437 L872,416.58" fill="none" stroke="#000" stroke-width="3.2" stroke-linejoin="miter" />
<path d="M872,409.8 L877.5,420.4 L872,418.28 L866.5,420.4 Z" fill="#000"/>
<path d="M946.5,543 L946.5,524 L871.3,524 L871.3,510.18" fill="none" stroke="#000" stroke-width="3.2" stroke-linejoin="miter" />
<path d="M871.3,503.4 L876.8,514 L871.3,511.88 L865.8,514 Z" fill="#000"/>
<path d="M829.3,574.4 L846.52,574.4" fill="none" stroke="#000" stroke-width="3.2" stroke-linejoin="miter" />
<path d="M853.3,574.4 L842.7,579.9 L844.82,574.4 L842.7,568.9 Z" fill="#000"/>
<path d="M946.5,662 L946.5,614.98" fill="none" stroke="#000" stroke-width="3.2" stroke-linejoin="miter" />
<path d="M946.5,608.2 L952,618.8 L946.5,616.68 L941,618.8 Z" fill="#000"/>
<path d="M753.5,651 L753.5,624.38" fill="none" stroke="#000" stroke-width="3.2" stroke-linejoin="miter" />
<path d="M753.5,617.6 L759,628.2 L753.5,626.08 L748,628.2 Z" fill="#000"/>
<filter id="gg" x="-20%" y="-50%" width="140%" height="200%"><feGaussianBlur stdDeviation="3.2"/></filter>
<rect x="707.6" y="202.2" width="327.6" height="42.0" rx="8" fill="none" stroke="#8fc486" stroke-width="7" opacity="0.5" filter="url(#gg)"/>
<rect x="709.2" y="203.8" width="324.4" height="38.8" rx="6" fill="#f8faf6" stroke="#6aa864" stroke-width="3.2" />
<text x="728.8" y="230" font-family="Liberation Sans" font-size="20" font-weight="normal" fill="#000" stroke="#000" stroke-width="0.1" text-anchor="start" textLength="286" lengthAdjust="spacingAndGlyphs" >Trajectory Semantic Integrator</text>
<rect x="803.5" y="273.5" width="135.8" height="64" rx="5" fill="#f5f7fb" stroke="#4466b0" stroke-width="3" stroke-dasharray="8.5 3.5" />
<text x="817.5" y="299" font-family="Liberation Sans" font-size="17" font-weight="normal" fill="#000" stroke="#000" stroke-width="0.2" text-anchor="start" textLength="108.6" lengthAdjust="spacingAndGlyphs" >Route Choice</text>
<text x="836.2" y="322.7" font-family="Liberation Sans" font-size="17" font-weight="normal" fill="#000" stroke="#000" stroke-width="0.2" text-anchor="start" textLength="72.3" lengthAdjust="spacingAndGlyphs" >Behavior</text>
<filter id="gb" x="-20%" y="-50%" width="140%" height="200%"><feGaussianBlur stdDeviation="3.5"/></filter>
<rect x="750.3" y="367.1" width="242.30000000000007" height="41.5" rx="8" fill="none" stroke="#9aa8ee" stroke-width="8" opacity="0.5" filter="url(#gb)"/>
<rect x="751.8" y="368.6" width="239.3" height="38.5" rx="5" fill="#f7f9fc" stroke="#4a72c0" stroke-width="3" />
<text x="770.7" y="394.1" font-family="Liberation Sans" font-size="20" font-weight="normal" fill="#000" stroke="#000" stroke-width="0.1" text-anchor="start" textLength="202.6" lengthAdjust="spacingAndGlyphs" >Route Choice Encoder</text>
<rect x="777.6" y="437.7" width="188.4" height="63.1" rx="5" fill="#fdfaf7" stroke="#dc873f" stroke-width="3" stroke-dasharray="8.5 3.5" />
<text x="791" y="463.4" font-family="Liberation Sans" font-size="17" font-weight="normal" fill="#000" stroke="#000" stroke-width="0.2" text-anchor="start" textLength="162" lengthAdjust="spacingAndGlyphs" >Environment-Aware</text>
<text x="807.5" y="487.2" font-family="Liberation Sans" font-size="17" font-weight="normal" fill="#000" stroke="#000" stroke-width="0.2" text-anchor="start" textLength="128.3" lengthAdjust="spacingAndGlyphs" >Segment Token</text>
<filter id="go" x="-20%" y="-50%" width="140%" height="200%"><feGaussianBlur stdDeviation="5"/></filter>
<rect x="678.6" y="533.7" width="149.29999999999995" height="81.09999999999991" rx="8" fill="none" stroke="#f7b98c" stroke-width="10" opacity="0.45" filter="url(#go)"/>
<rect x="680.2" y="535.3" width="146.1" height="77.9" rx="7" fill="#fdfaf8" stroke="#e0873f" stroke-width="3.2" />
<text x="694.1" y="557.4" font-family="Liberation Sans" font-size="18.5" font-weight="normal" fill="#000" stroke="#000" stroke-width="0.1" text-anchor="start" textLength="119" lengthAdjust="spacingAndGlyphs" >Environment</text>
<text x="703.8" y="580.4" font-family="Liberation Sans" font-size="18.5" font-weight="normal" fill="#000" stroke="#000" stroke-width="0.1" text-anchor="start" textLength="99.1" lengthAdjust="spacingAndGlyphs" >Perception</text>
<text x="719.1" y="603.5" font-family="Liberation Sans" font-size="18.5" font-weight="normal" fill="#000" stroke="#000" stroke-width="0.1" text-anchor="start" textLength="68.6" lengthAdjust="spacingAndGlyphs" >Module</text>
<rect x="854.8" y="543.5" width="183" height="62" rx="5" fill="#fdfaf7" stroke="#dc873f" stroke-width="3" stroke-dasharray="8.5 3.5" />
<text x="866" y="568.4" font-family="Liberation Sans" font-size="17" font-weight="normal" fill="#000" stroke="#000" stroke-width="0.2" text-anchor="start" textLength="161.8" lengthAdjust="spacingAndGlyphs" >Environment-Aware</text>
<text x="888.9" y="592.3" font-family="Liberation Sans" font-size="17" font-weight="normal" fill="#000" stroke="#000" stroke-width="0.2" text-anchor="start" textLength="115.6" lengthAdjust="spacingAndGlyphs" >Road Network</text>
<text x="957.5" y="643" font-family="Liberation Sans" font-size="15.5" font-weight="normal" fill="#000" stroke="#000" stroke-width="0.1" text-anchor="start" textLength="53.7" lengthAdjust="spacingAndGlyphs" >lookup</text>
<rect x="693.3" y="652.4" width="119.6" height="100.1" rx="6.5" fill="#fafafa" stroke="#4f4f4f" stroke-width="3.2" />
<rect x="698" y="656.8" width="110.7" height="66.7" rx="0" fill="#f5f6f6" stroke="none" stroke-width="0" />
<path d="M700,670 Q720,680 735,700" fill="none" stroke="#ffffff" stroke-width="2.2" stroke-linejoin="miter" />
<path d="M720,657 L728,700" fill="none" stroke="#ffffff" stroke-width="2.2" stroke-linejoin="miter" />
<path d="M698,690 L808,680" fill="none" stroke="#ffffff" stroke-width="2.2" stroke-linejoin="miter" />
<path d="M760,657 L770,723" fill="none" stroke="#ffffff" stroke-width="2.2" stroke-linejoin="miter" />
<path d="M740,700 L808,712" fill="none" stroke="#ffffff" stroke-width="2.2" stroke-linejoin="miter" />
<path d="M780,660 Q790,690 808,700" fill="none" stroke="#ffffff" stroke-width="2.2" stroke-linejoin="miter" />
<path d="M750,657 Q745,680 760,723" fill="none" stroke="#ffffff" stroke-width="2.2" stroke-linejoin="miter" />
<path d="M698,700 L740,695" fill="none" stroke="#ffffff" stroke-width="2.2" stroke-linejoin="miter" />
<path d="M705,660 L712,675" fill="none" stroke="#dfe2e3" stroke-width="1.5" stroke-linejoin="miter" />
<path d="M790,690 L800,675" fill="none" stroke="#dfe2e3" stroke-width="1.5" stroke-linejoin="miter" />
<path d="M712,665 L718,660" fill="none" stroke="#dfe2e3" stroke-width="1.5" stroke-linejoin="miter" />
<path d="M698,697 L726,697 Q731,705 730.6,723.5 L698,723.5 Z" fill="#dce2e3" stroke="none" stroke-width="0" stroke-linejoin="miter" />
<circle cx="720" cy="720" r="1.6" fill="#fff" stroke="none" stroke-width="0" />
<rect x="730.4" y="668.1" width="11.9" height="7.61" rx="0" fill="#d9b48a" stroke="none" stroke-width="0" />
<path d="M729.9,668.914 L736.3499999999999,664 L742.8,668.914 Z" fill="#a0522d" stroke="none" stroke-width="2.5" stroke-linejoin="miter" />
<rect x="735.05" y="671.25" width="2.6" height="4.45" rx="0" fill="#7a6a5a" stroke="none" stroke-width="0" />
<rect x="738.3" y="689.73" width="12.3" height="7.67" rx="0" fill="#d8a46a" stroke="none" stroke-width="0" />
<path d="M737.8,690.556 L744.45,685.6 L751.1,690.556 Z" fill="#b0582c" stroke="none" stroke-width="2.5" stroke-linejoin="miter" />
<rect x="743.15" y="692.92" width="2.6" height="4.48" rx="0" fill="#7a6a5a" stroke="none" stroke-width="0" />
<rect x="793.3" y="712.97" width="12.6" height="7.93" rx="0" fill="#d9b48a" stroke="none" stroke-width="0" />
<path d="M792.8,713.8240000000001 L799.5999999999999,708.7 L806.4,713.8240000000001 Z" fill="#a0522d" stroke="none" stroke-width="2.5" stroke-linejoin="miter" />
<rect x="798.3" y="716.26" width="2.6" height="4.64" rx="0" fill="#7a6a5a" stroke="none" stroke-width="0" />
<rect x="752.4" y="714.59" width="10.3" height="7.41" rx="0" fill="#f5e2b5" stroke="none" stroke-width="0" />
<path d="M751.9,715.388 L757.55,710.6 L763.2,715.388 Z" fill="#d0584c" stroke="none" stroke-width="2.5" stroke-linejoin="miter" />
<rect x="756.25" y="717.67" width="2.6" height="4.33" rx="0" fill="#7a6a5a" stroke="none" stroke-width="0" />
<rect x="780.5" y="703.33" width="11" height="6.17" rx="0" fill="#f3ddd6" stroke="none" stroke-width="0" />
<path d="M780,703.99 L786.0,700 L792,703.99 Z" fill="#c9574e" stroke="none" stroke-width="2.5" stroke-linejoin="miter" />
<rect x="784.7" y="705.89" width="2.6" height="3.61" rx="0" fill="#7a6a5a" stroke="none" stroke-width="0" />
<path d="M766,673.8 L779,673.8 L777,670 L768,670 Z M767.5,670 L777.5,670 L776,666.5 L769,666.5 Z M769,666.5 L776,666.5 L772.5,661.7 Z" fill="#6e7a86" stroke="none" stroke-width="2.5" stroke-linejoin="miter" />
<rect x="768" y="671" width="9" height="1.2" rx="0" fill="#fff" stroke="none" stroke-width="0" />
<rect x="792" y="659" width="13" height="11.8" rx="1.5" fill="#2f9a4a" stroke="none" stroke-width="0" />
<path d="M792,664 L796,659 L800,663 L803,659 L805,662 L805,659 L792,659 Z" fill="#8cc8ee" stroke="none" stroke-width="2.5" stroke-linejoin="miter" />
<ellipse cx="799.5" cy="666.8" rx="4" ry="1.8" fill="#5ab6e0"/>
<rect x="706" y="684" width="14" height="12.6" rx="1.5" fill="#2f9a4a" stroke="none" stroke-width="0" />
<path d="M706,689 L710,684 L714,688 L718,684 L720,687 L720,684 L706,684 Z" fill="#8cc8ee" stroke="none" stroke-width="2.5" stroke-linejoin="miter" />
<ellipse cx="714.0" cy="692.6" rx="4" ry="1.8" fill="#5ab6e0"/>
<ellipse cx="783.5" cy="686" rx="4.6" ry="3" fill="#f0902a"/>
<rect x="781" y="692" width="6" height="4" rx="0" fill="#cfd9e0" stroke="none" stroke-width="0" />
<path d="M712,707 L727,707 L725,711.8 L714,711.8 Z" fill="#e86a2a" stroke="none" stroke-width="2.5" stroke-linejoin="miter" />
<rect x="714" y="705.5" width="10" height="1.8" rx="0" fill="#f5c26a" stroke="none" stroke-width="0" />
<rect x="736.7" y="703" width="12.1" height="10.7" rx="0" fill="#c9d3dc" stroke="none" stroke-width="0" />
<rect x="737.7" y="704.5" width="1.6" height="1.6" rx="0" fill="#8f9dab" stroke="none" stroke-width="0" />
<rect x="740.7" y="704.5" width="1.6" height="1.6" rx="0" fill="#8f9dab" stroke="none" stroke-width="0" />
<rect x="743.7" y="704.5" width="1.6" height="1.6" rx="0" fill="#8f9dab" stroke="none" stroke-width="0" />
<rect x="746.7" y="704.5" width="1.6" height="1.6" rx="0" fill="#8f9dab" stroke="none" stroke-width="0" />
<rect x="737.7" y="707.5" width="1.6" height="1.6" rx="0" fill="#8f9dab" stroke="none" stroke-width="0" />
<rect x="740.7" y="707.5" width="1.6" height="1.6" rx="0" fill="#8f9dab" stroke="none" stroke-width="0" />
<rect x="743.7" y="707.5" width="1.6" height="1.6" rx="0" fill="#8f9dab" stroke="none" stroke-width="0" />
<rect x="746.7" y="707.5" width="1.6" height="1.6" rx="0" fill="#8f9dab" stroke="none" stroke-width="0" />
<rect x="737.7" y="710.5" width="1.6" height="1.6" rx="0" fill="#8f9dab" stroke="none" stroke-width="0" />
<rect x="740.7" y="710.5" width="1.6" height="1.6" rx="0" fill="#8f9dab" stroke="none" stroke-width="0" />
<rect x="743.7" y="710.5" width="1.6" height="1.6" rx="0" fill="#8f9dab" stroke="none" stroke-width="0" />
<rect x="746.7" y="710.5" width="1.6" height="1.6" rx="0" fill="#8f9dab" stroke="none" stroke-width="0" />
<rect x="761" y="701" width="12.8" height="9.6" rx="0" fill="#dce7ee" stroke="none" stroke-width="0" />
<rect x="762" y="702" width="2" height="6" rx="0" fill="#5c7c96" stroke="none" stroke-width="0" />
<rect x="766" y="702" width="2" height="6" rx="0" fill="#5c7c96" stroke="none" stroke-width="0" />
<rect x="770" y="702" width="2" height="6" rx="0" fill="#5c7c96" stroke="none" stroke-width="0" />
<rect x="761" y="708.5" width="12.8" height="2.1" rx="0" fill="#3e6a84" stroke="none" stroke-width="0" />
<circle cx="767.4" cy="699.5" r="2.2" fill="#e0505a" stroke="none" stroke-width="0" />
<text x="712.3" y="743.6" font-family="Liberation Sans" font-size="19" font-weight="normal" fill="#000" stroke="#000" stroke-width="0.1" text-anchor="start" textLength="81.6" lengthAdjust="spacingAndGlyphs" >POI Data</text>
<rect x="859.1" y="663.6" width="174.7" height="61.1" rx="6.5" fill="#f9f9f9" stroke="#4f4f4f" stroke-width="3.2" />
<path d="M871.7,686.9 Q884,680 896.7,678.2 L925.3,681.5 L951.3,686.9 L978.7,691.6 L1007.7,686.9" fill="none" stroke="#4f4f4f" stroke-width="3" stroke-linejoin="miter" />
<path d="M1007.7,686.9 L1025.06,682.62" fill="none" stroke="#4f4f4f" stroke-width="3" stroke-linejoin="miter" />
<path d="M1029.6,681.5 L1021.94,688.02 L1023.92,682.9 L1019.78,679.29 Z" fill="#4f4f4f"/>
<circle cx="871.7" cy="686.9" r="6.4" fill="#ddd3e4" stroke="#4f4f4f" stroke-width="2.4" />
<circle cx="896.7" cy="678.2" r="6.4" fill="#ddd3e4" stroke="#4f4f4f" stroke-width="2.4" />
<circle cx="925.3" cy="681.5" r="6.4" fill="#ddd3e4" stroke="#4f4f4f" stroke-width="2.4" />
<circle cx="951.3" cy="686.9" r="6.4" fill="#ddd3e4" stroke="#4f4f4f" stroke-width="2.4" />
<circle cx="978.7" cy="691.6" r="6.4" fill="#ddd3e4" stroke="#4f4f4f" stroke-width="2.4" />
<circle cx="1007.7" cy="686.9" r="6.4" fill="#ddd3e4" stroke="#4f4f4f" stroke-width="2.4" />
<text x="900" y="715.3" font-family="Liberation Sans" font-size="19" font-weight="normal" fill="#000" stroke="#000" stroke-width="0.1" text-anchor="start" textLength="93" lengthAdjust="spacingAndGlyphs" >Trajectory</text>
<rect x="1113.55" y="36.55" width="375" height="135.6" rx="5" fill="#f6f9f4" stroke="#6aa864" stroke-width="2.7" />
<rect x="1124.5" y="47.5" width="65.1" height="20.7" rx="3" fill="#fbfcfa" stroke="#86b97e" stroke-width="2.2" />
<text x="1129.9" y="63.5" font-family="Liberation Sans" font-size="16.5" font-weight="normal" fill="#000" stroke="#000" stroke-width="0.2" text-anchor="start" textLength="55.6" lengthAdjust="spacingAndGlyphs" >Output</text>
<rect x="1124.5" y="91.4" width="189.4" height="25.5" rx="3" fill="#fbfcfa" stroke="#86b97e" stroke-width="2.2" />
<text x="1130.5" y="110.6" font-family="Liberation Sans" font-size="17" font-weight="normal" fill="#000" stroke="#000" stroke-width="0.2" text-anchor="start" textLength="179.6" lengthAdjust="spacingAndGlyphs" >Transformer Encoder</text>
<rect x="1124.5" y="140.1" width="44.8" height="21.1" rx="3" fill="#fbfcfa" stroke="#86b97e" stroke-width="2.2" />
<text x="1130.5" y="156.5" font-family="Liberation Sans" font-size="17" font-weight="normal" fill="#000" stroke="#000" stroke-width="0.2" text-anchor="start" textLength="32.3" lengthAdjust="spacingAndGlyphs" >CLS</text>
<path d="M1146.7,90.3 L1146.7,77.28" fill="none" stroke="#4f4f4f" stroke-width="2.2" stroke-linejoin="miter" />
<path d="M1146.7,71.4 L1151.95,81.9 L1146.7,78.75 L1141.45,81.9 Z" fill="#4f4f4f"/>
<path d="M1146.7,139 L1146.7,126.28" fill="none" stroke="#4f4f4f" stroke-width="2.2" stroke-linejoin="miter" />
<path d="M1146.7,120.4 L1151.95,130.9 L1146.7,127.75 L1141.45,130.9 Z" fill="#4f4f4f"/>
<path d="M1192.2,141 L1192.2,126.28" fill="none" stroke="#4f4f4f" stroke-width="2.2" stroke-linejoin="miter" />
<path d="M1192.2,120.4 L1197.45,130.9 L1192.2,127.75 L1186.95,130.9 Z" fill="#4f4f4f"/>
<path d="M1192.2,143.4 L1203.28,160.7 L1181.42,160.7 Z" fill="#d3e4d0" stroke="#4f4f4f" stroke-width="3.2" stroke-linejoin="miter" />
<path d="M1227.3,141 L1227.3,126.28" fill="none" stroke="#4f4f4f" stroke-width="2.2" stroke-linejoin="miter" />
<path d="M1227.3,120.4 L1232.55,130.9 L1227.3,127.75 L1222.05,130.9 Z" fill="#4f4f4f"/>
<path d="M1227.3,143.4 L1238.28,160.7 L1216.42,160.7 Z" fill="#d3e4d0" stroke="#4f4f4f" stroke-width="3.2" stroke-linejoin="miter" />
<path d="M1293.7,141 L1293.7,126.28" fill="none" stroke="#4f4f4f" stroke-width="2.2" stroke-linejoin="miter" />
<path d="M1293.7,120.4 L1298.95,130.9 L1293.7,127.75 L1288.45,130.9 Z" fill="#4f4f4f"/>
<path d="M1293.7,143.4 L1304.78,160.7 L1282.72,160.7 Z" fill="#d3e4d0" stroke="#4f4f4f" stroke-width="3.2" stroke-linejoin="miter" />
<circle cx="1250" cy="149.5" r="2.3" fill="#555" stroke="none" stroke-width="0" />
<circle cx="1260.5" cy="149.5" r="2.3" fill="#555" stroke="none" stroke-width="0" />
<circle cx="1271" cy="149.5" r="2.3" fill="#555" stroke="none" stroke-width="0" />
<line x1="1326.8" y1="42" x2="1326.8" y2="165.8" stroke="#c6c6c3" stroke-width="3" stroke-linecap="butt" stroke-dasharray="8 3.7"/>
<path d="M1355.8,67.8 L1366.58,88.4 L1345.52,88.4 Z" fill="#d3e4d0" stroke="#4f4f4f" stroke-width="3.2" stroke-linejoin="miter" />
<circle cx="1414.5" cy="78.2" r="8.6" fill="#f6f9f4" stroke="#4f4f4f" stroke-width="1.8" />
<line x1="1405.9" y1="78.2" x2="1423.1" y2="78.2" stroke="#4f4f4f" stroke-width="1.8" stroke-linecap="butt"/>
<line x1="1414.5" y1="69.6" x2="1414.5" y2="86.8" stroke="#4f4f4f" stroke-width="1.8" stroke-linecap="butt"/>
<path d="M1405,78.2 L1371.28,78.2" fill="none" stroke="#4f4f4f" stroke-width="2.2" stroke-linejoin="miter" />
<path d="M1365.4,78.2 L1375.9,72.95 L1372.75,78.2 L1375.9,83.45 Z" fill="#4f4f4f"/>
<path d="M1467,139 L1467,78.2 L1431.78,78.2" fill="none" stroke="#4f4f4f" stroke-width="2.2" stroke-linejoin="miter" />
<path d="M1425.9,78.2 L1436.4,72.95 L1433.25,78.2 L1436.4,83.45 Z" fill="#4f4f4f"/>
<path d="M1467,141 L1477.68,158.8 L1456.92,158.8 Z" fill="#94b0e4" stroke="#4f4f4f" stroke-width="3.2" stroke-linejoin="miter" />
<path d="M1414.5,139.4 L1414.5,94.48" fill="none" stroke="#4f4f4f" stroke-width="2.2" stroke-linejoin="miter" />
<path d="M1414.5,88.6 L1419.75,99.1 L1414.5,95.95 L1409.25,99.1 Z" fill="#4f4f4f"/>
<rect x="1340.1" y="140.5" width="102.1" height="20.7" rx="3" fill="#fbfcfa" stroke="#86b97e" stroke-width="2.2" />
<text x="1347.8" y="156.5" font-family="Liberation Sans" font-size="17" font-weight="normal" fill="#000" stroke="#000" stroke-width="0.2" text-anchor="start" textLength="89.5" lengthAdjust="spacingAndGlyphs" >Timestamp</text>
<text x="1345.5" y="112.1" font-family="Liberation Sans" font-size="13.5" font-weight="normal" fill="#000" stroke="#000" stroke-width="0.2" text-anchor="start" textLength="62.2" lengthAdjust="spacingAndGlyphs" >Temporal</text>
<text x="1345.5" y="131.1" font-family="Liberation Sans" font-size="13.5" font-weight="normal" fill="#000" stroke="#000" stroke-width="0.2" text-anchor="start" textLength="61" lengthAdjust="spacingAndGlyphs" >Encoding</text>
<rect x="1112.95" y="181.15" width="375.6" height="577.6" rx="6.5" fill="#f6f8fb" stroke="#4a72c0" stroke-width="2.7" />
<path d="M1300.6,194.2 L1311.51,215.2 L1290.29,215.2 Z" fill="#94b0e4" stroke="#4f4f4f" stroke-width="3.4" stroke-linejoin="miter" />
<path d="M1300.6,237.3 L1300.6,224.48" fill="none" stroke="#4f4f4f" stroke-width="2.2" stroke-linejoin="miter" />
<path d="M1300.6,218.6 L1305.85,229.1 L1300.6,225.95 L1295.35,229.1 Z" fill="#4f4f4f"/>
<rect x="1278.8" y="238.3" width="43.4" height="21.8" rx="3" fill="#fbfcfe" stroke="#4a72c0" stroke-width="2" />
<text x="1282.6" y="254.7" font-family="Liberation Sans" font-size="18.3" font-weight="normal" fill="#000" stroke="#000" stroke-width="0.2" text-anchor="start" textLength="36.3" lengthAdjust="spacingAndGlyphs" >MLP</text>
<rect x="1354.1" y="238.3" width="116.8" height="21.3" rx="3" fill="#fbfcfe" stroke="#4a72c0" stroke-width="2" />
<text x="1356.3" y="254.4" font-family="Liberation Sans" font-size="17" font-weight="normal" fill="#000" stroke="#000" stroke-width="0.2" text-anchor="start" textLength="112.8" lengthAdjust="spacingAndGlyphs" >Mean Pooling</text>
<path d="M1353,248.6 L1333.3,248.6" fill="none" stroke="#4f4f4f" stroke-width="2.2" stroke-linejoin="miter" />
<path d="M1324.5,248.6 L1335.5,243.1 L1335.5,248.6 L1335.5,254.1 Z" fill="#4f4f4f"/>
<path d="M1181,278 L1181,249 L1267.8,249" fill="none" stroke="#4f4f4f" stroke-width="2.2" stroke-linejoin="miter" />
<path d="M1276.6,249 L1265.6,254.5 L1265.6,249 L1265.6,243.5 Z" fill="#4f4f4f"/>
<path d="M1181,278.1 L1194.5,291.6 L1181,305.1 L1167.5,291.6 Z" fill="#94b0e4" stroke="#4f4f4f" stroke-width="3.2" stroke-linejoin="miter" />
<text x="1152.7" y="319.6" font-family="Liberation Sans" font-size="14.5" font-weight="normal" fill="#000" stroke="#000" stroke-width="0.2" text-anchor="start" textLength="56.1" lengthAdjust="spacingAndGlyphs" >Selected</text>
<path d="M1300.2,294.3 L1310,304.8 L1304.4,304.8 L1304.4,318.7 L1296,318.7 L1296,304.8 L1290.4,304.8 Z" fill="#f6f8fb" stroke="#4f4f4f" stroke-width="2" stroke-linejoin="miter" />
<path d="M1355.6,277.5 Q1355.6,270.95500000000004 1365.6,270.95500000000004 L1402.5,270.95500000000004 Q1412.5,270.95500000000004 1412.5,265.6 Q1412.5,270.95500000000004 1422.5,270.95500000000004 L1459.4,270.95500000000004 Q1469.4,270.95500000000004 1469.4,277.5" fill="none" stroke="#4a72c0" stroke-width="2.2" stroke-linejoin="miter" />
<path d="M1373.9,278.3 L1386.9,291.3 L1373.9,304.3 L1360.9,291.3 Z" fill="#94b0e4" stroke="#4f4f4f" stroke-width="3" stroke-dasharray="2.6 2.2" stroke-linejoin="miter" />
<path d="M1450.3,278.3 L1463.3,291.3 L1450.3,304.3 L1437.3,291.3 Z" fill="#94b0e4" stroke="#4f4f4f" stroke-width="3" stroke-dasharray="2.6 2.2" stroke-linejoin="miter" />
<circle cx="1401.6" cy="291.8" r="2.3" fill="#555" stroke="none" stroke-width="0" />
<circle cx="1412.1" cy="291.8" r="2.3" fill="#555" stroke="none" stroke-width="0" />
<circle cx="1422.1" cy="291.8" r="2.3" fill="#555" stroke="none" stroke-width="0" />
<text x="1376.2" y="319.2" font-family="Liberation Sans" font-size="14.5" font-weight="normal" fill="#000" stroke="#000" stroke-width="0.2" text-anchor="start" textLength="72.1" lengthAdjust="spacingAndGlyphs" >Unselected</text>
<rect x="1131.5" y="328.8" width="338.9" height="152.2" rx="12.5" fill="none" stroke="#c6c6c3" stroke-width="2.8" stroke-dasharray="8 3.7" />
<text x="1212.7" y="346.5" font-family="Liberation Sans" font-size="17" font-weight="normal" fill="#000" stroke="#000" stroke-width="0.2" text-anchor="start" textLength="176.7" lengthAdjust="spacingAndGlyphs" >Encode Route Choice</text>
<rect x="1242" y="356.4" width="117.5" height="25.7" rx="4" fill="#fbfcfe" stroke="#4a72c0" stroke-width="2.2" />
<text x="1246.6" y="375" font-family="Liberation Sans" font-size="18" font-weight="normal" fill="#000" stroke="#000" stroke-width="0.2" text-anchor="start" textLength="107.8" lengthAdjust="spacingAndGlyphs" >Wide &amp; Deep</text>
<path d="M1137.7,406.5 Q1137.7,396.765 1147.7,396.765 L1290.4,396.765 Q1300.4,396.765 1300.4,388.8 Q1300.4,396.765 1310.4,396.765 L1453.9,396.765 Q1463.9,396.765 1463.9,406.5" fill="none" stroke="#4a72c0" stroke-width="2.2" stroke-linejoin="miter" />
<line x1="1215.3" y1="405.6" x2="1215.3" y2="476.2" stroke="#c6c6c3" stroke-width="3" stroke-linecap="butt" stroke-dasharray="6.5 4"/>
<line x1="1287.3" y1="405.6" x2="1287.3" y2="476.2" stroke="#c6c6c3" stroke-width="3" stroke-linecap="butt" stroke-dasharray="6.5 4"/>
<line x1="1362.4" y1="405.6" x2="1362.4" y2="476.2" stroke="#c6c6c3" stroke-width="3" stroke-linecap="butt" stroke-dasharray="6.5 4"/>
<text x="1151.6" y="420.6" font-family="Liberation Sans" font-size="13" font-weight="normal" fill="#000" stroke="#000" stroke-width="0.2" text-anchor="start" textLength="46.2" lengthAdjust="spacingAndGlyphs" >Journey</text>
<text x="1140.3" y="436.5" font-family="Liberation Sans" font-size="13" font-weight="normal" fill="#000" stroke="#000" stroke-width="0.2" text-anchor="start" textLength="68.5" lengthAdjust="spacingAndGlyphs" >Progression</text>
<text x="1223.6" y="420.6" font-family="Liberation Sans" font-size="13" font-weight="normal" fill="#000" stroke="#000" stroke-width="0.2" text-anchor="start" textLength="55.4" lengthAdjust="spacingAndGlyphs" >Historical</text>
<text x="1222.8" y="436.5" font-family="Liberation Sans" font-size="13" font-weight="normal" fill="#000" stroke="#000" stroke-width="0.2" text-anchor="start" textLength="57.5" lengthAdjust="spacingAndGlyphs" >Transition</text>
<text x="1294.4" y="421" font-family="Liberation Sans" font-size="13" font-weight="normal" fill="#000" stroke="#000" stroke-width="0.2" text-anchor="start" textLength="61.4" lengthAdjust="spacingAndGlyphs" >Directional</text>
<text x="1298.3" y="436.5" font-family="Liberation Sans" font-size="13" font-weight="normal" fill="#000" stroke="#000" stroke-width="0.2" text-anchor="start" textLength="52.7" lengthAdjust="spacingAndGlyphs" >Deviation</text>
<text x="1376.3" y="415.7" font-family="Liberation Sans" font-size="13" font-weight="normal" fill="#000" stroke="#000" stroke-width="0.2" text-anchor="start" textLength="78.4" lengthAdjust="spacingAndGlyphs" >Environment-</text>
<text x="1369.8" y="431.6" font-family="Liberation Sans" font-size="13" font-weight="normal" fill="#000" stroke="#000" stroke-width="0.2" text-anchor="start" textLength="91" lengthAdjust="spacingAndGlyphs" >Aware Segment</text>
<text x="1398.1" y="447.1" font-family="Liberation Sans" font-size="13" font-weight="normal" fill="#000" stroke="#000" stroke-width="0.2" text-anchor="start" textLength="34.5" lengthAdjust="spacingAndGlyphs" >Token</text>
<rect x="1155.5" y="455.3" width="38.9" height="8.7" rx="5.5" fill="#eef3fb" stroke="#4d78c8" stroke-width="2.2" />
<path d="M1156.5,456.3 L1169,456.3 L1166,463 L1156.5,463 Z" fill="#8fb0e8"/>
<line x1="1165.5" y1="456.5" x2="1162.5" y2="462.8" stroke="#4d78c8" stroke-width="1.6" stroke-linecap="butt"/>
<line x1="1171.5" y1="456.5" x2="1168.5" y2="462.8" stroke="#4d78c8" stroke-width="1.6" stroke-linecap="butt"/>
<line x1="1177.5" y1="456.5" x2="1174.5" y2="462.8" stroke="#4d78c8" stroke-width="1.6" stroke-linecap="butt"/>
<line x1="1233" y1="470.8" x2="1270" y2="470.8" stroke="#a9bde6" stroke-width="1" stroke-linecap="butt"/>
<rect x="1239.5" y="456" width="4.2" height="13.5" rx="0" fill="#a9bde6" stroke="none" stroke-width="0" />
<rect x="1244.5" y="447.3" width="4.2" height="22.2" rx="0" fill="#4d78c8" stroke="none" stroke-width="0" />
<rect x="1249.5" y="452" width="4.2" height="17.5" rx="0" fill="#a9bde6" stroke="none" stroke-width="0" />
<rect x="1254.5" y="455" width="4.2" height="14.5" rx="0" fill="#4d78c8" stroke="none" stroke-width="0" />
<circle cx="1325" cy="459.5" r="10.6" fill="#fdfaf4" stroke="#f2b630" stroke-width="2.8" />
<circle cx="1335" cy="448.5" r="1.55" fill="#fff" stroke="#f2b630" stroke-width="1.3" />
<path d="M1325,459.5 L1330.5,453.5 L1326.5,461.0 Z" fill="#e54b3c" stroke="none" stroke-width="2.5" stroke-linejoin="miter" />
<path d="M1325,459.5 L1319.5,465.5 L1323.5,458.0 Z" fill="#3a7fc8" stroke="none" stroke-width="2.5" stroke-linejoin="miter" />
<path d="M1325,459.5 L1330.5,453.5 L1323.5,458.0 Z" fill="#f07565" stroke="none" stroke-width="2.5" stroke-linejoin="miter" />
<path d="M1325,459.5 L1319.5,465.5 L1326.5,461.0 Z" fill="#6aa6e0" stroke="none" stroke-width="2.5" stroke-linejoin="miter" />
<circle cx="1398.2" cy="463.3" r="10.6" fill="#e5e5e5" stroke="#4f4f4f" stroke-width="3.2" />
<circle cx="1432.3" cy="463.3" r="11" fill="#ebebeb" stroke="#4f4f4f" stroke-width="3" stroke-dasharray="2.6 2.5" />
<path d="M1300.9,490.2 L1310.7,500.7 L1305.1,500.7 L1305.1,514 L1296.7,514 L1296.7,500.7 L1291.1,500.7 Z" fill="#f6f8fb" stroke="#4f4f4f" stroke-width="2" stroke-linejoin="miter" />
<rect x="1131.5" y="525" width="338.7" height="216.2" rx="12.5" fill="none" stroke="#c6c6c3" stroke-width="2.8" stroke-dasharray="8 3.7" />
<text x="1209.9" y="543.9" font-family="Liberation Sans" font-size="17" font-weight="normal" fill="#000" stroke="#000" stroke-width="0.2" text-anchor="start" textLength="181.6" lengthAdjust="spacingAndGlyphs" >Capture Route Choice</text>
<rect x="1169.5" y="554.1" width="270.5" height="84.8" rx="10" fill="none" stroke="#4a72c0" stroke-width="3" stroke-dasharray="7 4.2" />
<text x="1174.6" y="585.6" font-family="Liberation Sans" font-size="15" font-weight="normal" fill="#000" stroke="#000" stroke-width="0.2" text-anchor="start" textLength="72.1" lengthAdjust="spacingAndGlyphs" >Unselected</text>
<line x1="1252.1" y1="575.1" x2="1263.2" y2="586.5" stroke="#e2453a" stroke-width="3.2" stroke-linecap="butt"/>
<line x1="1252.1" y1="586.5" x2="1263.2" y2="575.1" stroke="#e2453a" stroke-width="3.2" stroke-linecap="butt"/>
<circle cx="1198.2" cy="602.3" r="11.3" fill="#e8e8e8" stroke="#4f4f4f" stroke-width="3" stroke-dasharray="2.6 2.5" />
<path d="M1259,602.3 L1215.66,602.3" fill="none" stroke="#4f4f4f" stroke-width="3" stroke-dasharray="2.2 2.2" stroke-linejoin="miter" />
<path d="M1211.5,602.3 L1219.5,598.3 L1216.7,602.3 L1219.5,606.3 Z" fill="#4f4f4f"/>
<circle cx="1324.1" cy="575.3" r="11.3" fill="#e8e8e8" stroke="#4f4f4f" stroke-width="3" stroke-dasharray="2.6 2.5" />
<path d="M1282,596 L1307.33,582.55" fill="none" stroke="#4f4f4f" stroke-width="3" stroke-dasharray="2.2 2.2" stroke-linejoin="miter" />
<path d="M1311,580.6 L1305.81,587.88 L1306.41,583.04 L1302.06,580.82 Z" fill="#4f4f4f"/>
<circle cx="1271.5" cy="602.3" r="10.9" fill="#e5e5e5" stroke="#4f4f4f" stroke-width="3.2" />
<path d="M1284,605.8 L1315.77,613.17" fill="none" stroke="#4f4f4f" stroke-width="3" stroke-linejoin="miter" />
<path d="M1321.5,614.5 L1310.09,617.24 L1314.34,612.84 L1312.46,607.01 Z" fill="#4f4f4f"/>
<circle cx="1335" cy="615.6" r="11.4" fill="#e5e5e5" stroke="#4f4f4f" stroke-width="3.2" />
<text x="1341" y="580.6" font-family="Liberation Sans" font-size="15" font-weight="normal" fill="#000" stroke="#000" stroke-width="0.2" text-anchor="start" textLength="72.7" lengthAdjust="spacingAndGlyphs" >Unselected</text>
<line x1="1417.2" y1="569.8" x2="1430.6" y2="581.8" stroke="#e2453a" stroke-width="3.2" stroke-linecap="butt"/>
<line x1="1417.2" y1="581.8" x2="1430.6" y2="569.8" stroke="#e2453a" stroke-width="3.2" stroke-linecap="butt"/>
<text x="1351.6" y="620.3" font-family="Liberation Sans" font-size="15" font-weight="normal" fill="#000" stroke="#000" stroke-width="0.2" text-anchor="start" textLength="55.8" lengthAdjust="spacingAndGlyphs" >Selected</text>
<rect x="1410.9" y="608.5" width="15.9" height="14.8" rx="2" fill="#7ab648" stroke="none" stroke-width="0" />
<path d="M1414.4,615.9 L1417.7,619.3 L1423.6,612.0" fill="none" stroke="#ffffff" stroke-width="2.6" stroke-linejoin="miter" />
<path d="M1281,645.8 L1290.8,656.3 L1285.2,656.3 L1285.2,669.6 L1276.8,669.6 L1276.8,656.3 L1271.2,656.3 Z" fill="#f6f8fb" stroke="#4a72c0" stroke-width="2" stroke-linejoin="miter" />
<rect x="1236" y="679" width="90" height="48" rx="10" fill="none" stroke="#4a72c0" stroke-width="3" stroke-dasharray="7 4.2" />
<path d="M1158.4,706.7 Q1180,694 1204.5,691.5 L1256.5,698 L1305.7,707.8 L1356.1,717.2 Q1385,716 1409.9,708.5" fill="none" stroke="#4a4a4a" stroke-width="3" stroke-linejoin="miter" />
<path d="M1409.9,708.5 L1445.58,698.95" fill="none" stroke="#4a4a4a" stroke-width="3" stroke-linejoin="miter" />
<path d="M1450.6,697.6 L1442.23,705.02 L1444.32,699.28 L1439.65,695.36 Z" fill="#4a4a4a"/>
<circle cx="1158.4" cy="706.7" r="10.7" fill="#e5e5e5" stroke="#4a4a4a" stroke-width="3.4" />
<circle cx="1204.5" cy="691.5" r="10.7" fill="#e5e5e5" stroke="#4a4a4a" stroke-width="3.4" />
<circle cx="1256.5" cy="698" r="10.7" fill="#e5e5e5" stroke="#4a4a4a" stroke-width="3.4" />
<circle cx="1305.7" cy="707.8" r="10.7" fill="#e5e5e5" stroke="#4a4a4a" stroke-width="3.4" />
<circle cx="1356.1" cy="717.2" r="10.7" fill="#e5e5e5" stroke="#4a4a4a" stroke-width="3.4" />
<circle cx="1409.9" cy="708.5" r="10.7" fill="#e5e5e5" stroke="#4a4a4a" stroke-width="3.4" />
<g transform="scale(1.09203,1)" font-family="Liberation Serif" font-weight="bold" font-size="26" fill="#111">
<text x="52.93" y="825.0">Figure</text>
<text x="130.82" y="825.0">2:</text>
<text x="157.20" y="825.0">Overview</text>
<text x="268.75" y="825.0">of</text>
<text x="295.13" y="825.0">the</text>
<text x="334.50" y="825.0">PRTraj</text>
<text x="421.57" y="825.0">framework.</text>
<text x="556.96" y="825.0">It</text>
<text x="580.45" y="825.0">first</text>
<text x="631.36" y="825.0">employs</text>
<text x="727.06" y="825.0">an</text>
<text x="759.24" y="825.0">Environment</text>
<text x="910.82" y="825.0">Perception</text>
<text x="1034.90" y="825.0">Module</text>
<text x="1124.84" y="825.0">to</text>
<text x="1151.22" y="825.0">construct</text>
<text x="1259.90" y="825.0">an</text>
<text x="1292.08" y="825.0">environment-</text>
<text x="52.93" y="857.7">aware</text>
<text x="126.48" y="857.7">road</text>
<text x="184.18" y="857.7">network</text>
<text x="282.78" y="857.7">representation</text>
<text x="449.75" y="857.7">by</text>
<text x="483.38" y="857.7">capturing</text>
<text x="597.89" y="857.7">urban</text>
<text x="671.97" y="857.7">environmental</text>
<text x="839.43" y="857.7">semantics.</text>
<text x="960.42" y="857.7">Building</text>
<text x="1061.99" y="857.7">on</text>
<text x="1095.63" y="857.7">this,</text>
<text x="1148.76" y="857.7">the</text>
<text x="1189.59" y="857.7">Route</text>
<text x="1262.19" y="857.7">Choice</text>
<text x="1344.90" y="857.7">Encoder</text>
<text x="52.93" y="891.0">models</text>
<text x="139.13" y="891.0">the</text>
<text x="182.00" y="891.0">decision-making</text>
<text x="372.23" y="891.0">process</text>
<text x="462.28" y="891.0">to</text>
<text x="492.15" y="891.0">extract</text>
<text x="578.29" y="891.0">route</text>
<text x="645.22" y="891.0">choice</text>
<text x="722.73" y="891.0">behaviors</text>
<text x="839.27" y="891.0">embedded</text>
<text x="961.60" y="891.0">within</text>
<text x="1040.61" y="891.0">the</text>
<text x="1083.48" y="891.0">trajectory.</text>
<text x="1207.88" y="891.0">Finally,</text>
<text x="1299.15" y="891.0">a</text>
<text x="1320.35" y="891.0">Trajectory</text>
<text x="52.93" y="923.7">Semantic</text>
<text x="161.98" y="923.7">Integrator</text>
<text x="283.99" y="923.7">aggregates</text>
<text x="408.43" y="923.7">these</text>
<text x="471.26" y="923.7">outputs</text>
<text x="561.59" y="923.7">to</text>
<text x="589.76" y="923.7">produce</text>
<text x="686.79" y="923.7">the</text>
<text x="727.96" y="923.7">global</text>
<text x="802.38" y="923.7">trajectory</text>
<text x="920.02" y="923.7">representation.</text>
</g>
</svg>
</div></body></html>
